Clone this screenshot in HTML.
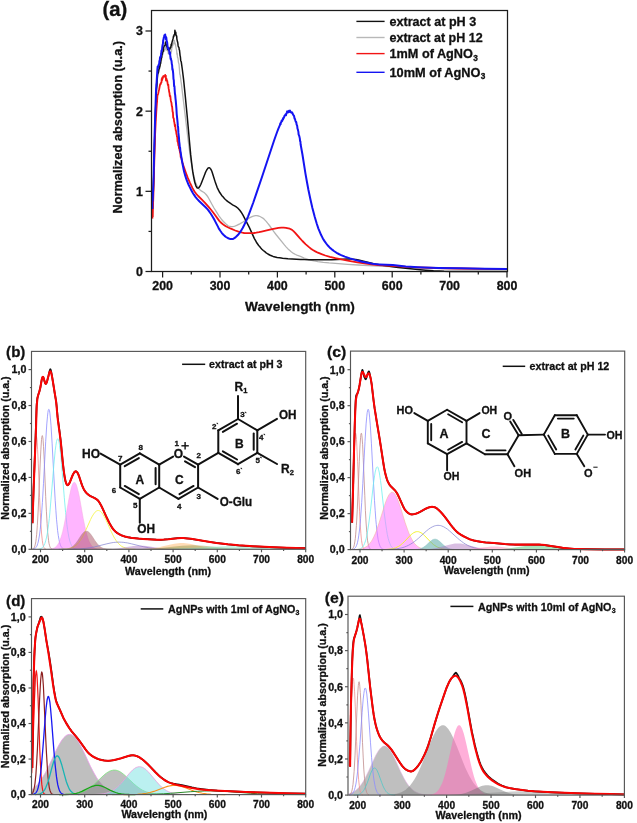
<!DOCTYPE html>
<html><head><meta charset="utf-8"><title>UV-Vis absorption spectra</title>
<style>
html,body{margin:0;padding:0;background:#fff;}
body{width:637px;height:823px;overflow:hidden;font-family:"Liberation Sans",sans-serif;}
svg{display:block;will-change:transform;}
text{font-family:"Liberation Sans",sans-serif;font-weight:bold;stroke:#111;stroke-width:0.3px;}
</style></head><body>
<svg width="637" height="823" viewBox="0 0 637 823">
<rect width="637" height="823" fill="#ffffff"/>
<g font-family="Liberation Sans, sans-serif" font-weight="bold">
<path d="M152.6,207.4 L152.8,202.1 L153.4,187.3 L153.7,176.9 L154.6,137.5 L155.7,104.0 L156.3,91.6 L156.9,82.4 L157.1,79.1 L157.4,77.1 L157.7,72.9 L158.0,71.5 L158.3,69.5 L158.6,70.1 L158.9,69.7 L159.2,69.0 L159.4,69.1 L159.7,65.7 L160.0,66.7 L160.3,65.6 L160.6,63.4 L160.9,60.5 L161.5,60.3 L161.7,58.7 L162.0,56.2 L162.6,55.1 L162.9,53.5 L163.5,49.3 L163.7,51.5 L164.0,50.2 L164.3,49.7 L164.6,50.8 L164.9,49.0 L165.2,48.7 L165.5,46.5 L166.0,49.1 L166.3,47.1 L166.6,48.5 L166.9,50.3 L167.2,49.8 L167.5,50.4 L167.8,51.3 L168.1,51.0 L168.3,53.7 L168.6,52.3 L168.9,51.4 L169.2,51.9 L169.5,51.8 L169.8,51.9 L170.1,51.4 L170.3,53.7 L170.6,51.4 L170.9,53.4 L171.2,51.4 L171.5,51.8 L171.8,48.0 L172.1,46.6 L172.4,47.0 L172.6,44.0 L172.9,45.3 L173.2,43.5 L173.5,42.6 L173.8,43.2 L174.4,40.3 L174.7,43.7 L174.9,42.6 L175.2,44.7 L175.5,44.1 L175.8,46.6 L176.4,49.3 L176.7,51.1 L176.9,54.2 L177.2,53.1 L177.5,57.4 L177.8,57.6 L178.1,59.0 L178.4,62.2 L179.0,64.1 L179.5,70.2 L179.8,74.3 L180.1,74.7 L180.7,78.8 L181.0,81.6 L181.3,83.1 L187.6,135.7 L189.0,146.9 L190.4,157.2 L191.6,164.6 L192.7,170.9 L193.9,176.2 L195.0,180.6 L195.6,182.4 L196.5,184.6 L197.3,186.4 L198.2,187.8 L199.0,188.9 L200.2,190.0 L201.3,190.9 L203.6,192.3 L204.5,192.9 L205.6,194.0 L206.5,195.0 L207.7,196.6 L208.8,198.5 L212.3,205.0 L214.0,208.0 L216.6,212.2 L219.1,216.1 L221.4,219.2 L223.4,221.5 L225.7,223.8 L226.9,224.8 L227.7,225.5 L228.6,226.0 L229.5,226.4 L230.0,226.5 L230.9,226.7 L231.8,226.7 L232.6,226.6 L233.8,226.4 L234.9,226.1 L236.1,225.7 L237.2,225.2 L239.8,223.9 L243.0,222.0 L249.0,218.1 L250.4,217.4 L252.1,216.6 L253.3,216.2 L254.4,215.9 L255.3,215.7 L256.2,215.6 L257.0,215.6 L257.9,215.8 L258.7,216.0 L259.6,216.3 L261.3,217.2 L262.8,218.1 L264.5,219.6 L266.2,221.4 L267.6,223.2 L269.1,225.0 L274.0,231.8 L276.0,234.5 L284.6,245.1 L286.3,247.1 L288.0,248.9 L289.5,250.3 L291.2,251.7 L293.5,253.4 L295.5,254.5 L296.9,255.1 L300.4,256.3 L304.1,258.0 L305.8,258.6 L308.7,259.6 L311.3,260.3 L314.1,260.9 L317.9,261.6 L323.3,262.3 L329.1,262.9 L347.7,264.3 L358.0,265.0 L373.3,265.9 L412.3,267.6 L433.2,268.3 L447.9,268.7 L481.2,269.1 L507.0,269.3" fill="none" stroke="#b4b4b4" stroke-width="1.3" stroke-linejoin="round" stroke-linecap="butt"/>
<path d="M152.6,209.0 L152.8,203.7 L153.4,188.9 L154.6,141.3 L155.4,113.5 L156.3,91.8 L156.6,88.1 L156.9,85.7 L157.1,80.7 L157.7,74.1 L158.3,72.7 L158.6,71.7 L158.9,69.3 L159.2,68.6 L159.4,68.3 L159.7,66.8 L160.0,65.8 L160.3,63.3 L160.6,63.3 L160.9,60.7 L161.2,58.8 L161.5,57.6 L161.7,57.4 L162.0,53.9 L162.3,54.4 L162.6,52.0 L162.9,51.8 L163.2,51.5 L163.5,48.5 L163.7,47.3 L164.0,46.7 L164.3,45.5 L164.6,45.6 L164.9,45.1 L165.2,44.2 L165.5,42.1 L165.8,43.3 L166.0,44.9 L166.3,44.4 L166.6,46.0 L166.9,46.6 L167.2,46.0 L167.8,49.6 L168.1,49.4 L168.3,48.8 L168.6,49.2 L168.9,48.3 L169.2,50.3 L169.5,48.8 L170.1,48.9 L170.3,47.3 L170.6,46.8 L170.9,47.1 L171.2,44.2 L171.5,45.4 L171.8,43.1 L172.1,42.1 L172.4,40.7 L172.6,40.8 L172.9,39.1 L173.2,38.2 L173.5,36.0 L173.8,36.7 L174.1,34.9 L174.4,34.3 L174.7,34.5 L174.9,30.2 L175.2,32.8 L175.5,34.4 L175.8,32.3 L176.1,35.7 L176.4,35.5 L176.7,36.3 L176.9,39.1 L177.5,41.8 L177.8,42.8 L178.1,45.7 L178.4,46.8 L179.0,47.6 L179.2,49.6 L179.5,50.1 L180.1,55.6 L180.4,56.9 L180.7,60.4 L181.3,62.1 L182.4,70.0 L183.6,79.6 L185.3,96.4 L187.3,117.3 L189.9,146.2 L190.7,154.9 L191.6,162.7 L192.7,171.4 L193.6,176.6 L194.7,182.0 L195.3,184.1 L195.9,185.8 L196.5,187.0 L196.8,187.4 L197.3,188.0 L197.6,188.1 L197.9,188.1 L198.2,188.1 L198.5,188.0 L199.0,187.5 L199.9,186.2 L200.8,184.5 L201.9,181.7 L205.1,173.4 L205.9,171.5 L206.8,169.8 L207.7,168.6 L208.2,168.0 L208.5,167.9 L209.1,167.7 L209.4,167.8 L210.0,168.1 L210.2,168.4 L210.8,169.2 L211.4,170.3 L212.0,171.7 L212.8,174.2 L215.4,182.6 L216.3,185.1 L217.1,187.3 L218.6,190.4 L219.4,192.0 L220.3,193.3 L221.7,195.4 L223.2,197.1 L224.6,198.7 L226.3,200.3 L228.3,201.9 L230.9,203.7 L232.6,204.8 L235.5,206.4 L236.6,207.2 L237.5,207.8 L238.4,208.7 L239.8,210.3 L240.7,211.5 L241.8,213.2 L243.0,215.2 L244.4,217.8 L249.3,227.4 L254.4,238.6 L255.3,240.2 L256.4,242.2 L257.3,243.5 L258.5,245.2 L259.6,246.6 L260.8,248.0 L261.9,249.2 L263.3,250.5 L264.8,251.7 L266.2,252.8 L267.9,254.0 L269.7,255.0 L271.4,255.7 L273.1,256.4 L275.1,256.9 L277.1,257.4 L279.7,257.8 L282.6,258.2 L288.0,258.7 L300.6,259.4 L304.4,259.6 L308.4,259.7 L318.4,259.8 L326.2,259.8 L331.9,259.7 L347.7,259.1 L350.6,259.1 L352.9,259.2 L355.8,259.6 L358.6,260.1 L373.8,263.8 L377.6,264.5 L382.4,265.3 L392.8,266.8 L398.2,267.5 L420.3,269.7 L425.8,270.2 L433.5,270.8 L439.3,271.1 L444.1,271.3 L452.2,271.4 L461.1,271.5 L507.0,271.5" fill="none" stroke="#111" stroke-width="1.5" stroke-linejoin="round" stroke-linecap="butt"/>
<path d="M152.6,217.0 L152.8,210.8 L153.4,195.3 L154.3,161.3 L155.1,134.6 L155.7,122.2 L156.3,111.6 L156.9,103.3 L157.1,101.3 L157.4,96.0 L157.7,94.7 L158.0,94.2 L158.3,93.2 L158.9,90.1 L159.2,89.2 L160.0,84.8 L160.3,84.0 L160.6,84.3 L160.9,82.9 L161.2,82.8 L161.5,82.1 L161.7,78.9 L162.0,80.4 L162.3,77.3 L162.6,78.8 L163.2,76.2 L163.5,76.7 L163.7,76.0 L164.0,76.3 L164.3,76.4 L164.6,76.1 L164.9,76.7 L165.2,74.8 L165.5,76.9 L165.8,75.6 L166.0,80.5 L166.3,78.6 L166.6,79.0 L166.9,80.9 L167.2,80.7 L167.8,84.6 L168.1,85.3 L168.3,84.5 L168.6,88.4 L168.9,89.8 L169.2,92.1 L169.5,93.1 L169.8,96.1 L170.1,96.6 L170.3,95.8 L170.6,98.8 L170.9,100.9 L171.5,103.1 L171.8,106.1 L172.1,106.4 L172.6,111.8 L172.9,112.1 L173.2,117.8 L173.5,117.8 L173.8,118.7 L174.1,121.6 L174.4,122.6 L174.9,126.4 L175.2,124.8 L175.5,128.4 L175.8,130.7 L176.1,131.0 L176.4,134.0 L176.7,134.5 L176.9,136.6 L177.2,136.9 L177.5,141.4 L177.8,140.8 L178.4,145.6 L178.7,144.9 L179.0,148.3 L179.2,147.3 L179.5,149.8 L179.8,151.0 L180.1,152.9 L180.4,153.4 L180.7,157.3 L181.0,156.7 L182.4,162.2 L183.8,166.9 L185.6,172.0 L187.6,177.3 L189.9,182.6 L192.4,187.9 L193.3,189.5 L194.5,191.4 L196.2,193.8 L198.2,196.0 L201.9,199.7 L204.8,202.6 L208.8,207.1 L210.8,209.5 L212.8,212.0 L214.5,214.3 L218.0,219.1 L219.1,220.6 L220.0,221.6 L221.4,223.0 L222.9,224.2 L224.6,225.4 L226.3,226.5 L228.3,227.5 L230.9,228.7 L235.2,230.5 L237.8,231.4 L240.4,232.2 L242.4,232.7 L244.1,233.0 L246.1,233.1 L249.3,233.2 L251.9,233.1 L253.9,233.0 L256.2,232.7 L259.0,232.2 L261.6,231.6 L269.9,229.6 L273.4,228.8 L276.0,228.3 L278.5,227.9 L281.4,227.7 L283.7,227.6 L286.0,227.8 L288.3,228.3 L289.7,228.7 L291.2,229.4 L292.3,230.1 L293.5,231.1 L295.2,232.8 L299.8,238.2 L302.4,241.0 L305.8,244.3 L309.3,247.4 L311.3,249.0 L313.3,250.3 L315.3,251.4 L317.9,252.7 L321.6,254.2 L325.3,255.5 L329.9,256.8 L335.4,258.2 L341.4,259.4 L348.9,260.8 L357.5,262.3 L367.8,263.9 L373.0,264.6 L378.1,265.1 L392.2,265.9 L406.8,266.9 L418.0,267.4 L436.1,268.0 L459.4,268.5 L485.5,268.9 L507.0,269.1" fill="none" stroke="#f21414" stroke-width="1.8" stroke-linejoin="round" stroke-linecap="butt"/>
<path d="M152.6,201.8 L152.8,197.1 L153.4,183.3 L153.7,173.1 L154.3,146.7 L154.9,125.3 L156.0,91.4 L156.3,85.2 L156.6,82.5 L157.4,69.3 L157.7,66.4 L158.0,67.8 L158.3,65.9 L158.6,65.2 L158.9,64.3 L159.2,63.8 L159.4,60.9 L159.7,61.3 L160.0,57.6 L160.3,56.9 L160.6,57.4 L161.2,54.0 L161.5,50.5 L161.7,51.0 L162.0,50.0 L162.3,46.9 L162.6,44.8 L162.9,44.0 L163.2,40.1 L163.5,39.7 L163.7,37.9 L164.0,37.7 L164.3,35.7 L164.6,35.0 L164.9,36.7 L165.2,34.5 L165.5,37.3 L165.8,36.7 L166.0,39.4 L166.3,37.5 L166.6,40.5 L166.9,41.4 L167.2,42.7 L167.5,46.1 L167.8,48.3 L168.1,47.6 L168.3,47.6 L168.6,49.4 L168.9,49.8 L169.2,50.7 L169.5,54.0 L170.1,52.7 L170.3,56.2 L170.6,58.8 L170.9,58.4 L171.2,60.1 L171.5,60.9 L171.8,64.0 L172.1,65.1 L172.4,69.6 L172.6,69.0 L172.9,70.8 L173.2,73.7 L173.5,79.1 L173.8,80.2 L174.1,86.2 L174.4,86.0 L174.9,93.3 L175.2,95.1 L175.5,98.6 L175.8,101.1 L176.4,108.4 L176.7,113.8 L177.5,121.7 L177.8,125.4 L178.1,127.3 L178.4,132.9 L179.0,138.2 L179.2,141.6 L179.5,143.6 L179.8,147.2 L180.1,147.6 L180.4,151.4 L180.7,152.1 L181.0,155.0 L182.4,163.3 L183.8,170.3 L184.4,172.8 L185.3,175.9 L186.7,180.2 L187.6,182.4 L188.7,185.0 L189.9,187.4 L191.3,190.3 L192.7,192.8 L193.9,194.7 L195.6,197.1 L197.3,199.1 L199.3,201.2 L205.6,207.2 L207.4,209.1 L208.8,210.9 L210.8,213.8 L213.1,217.5 L214.8,220.6 L218.3,227.4 L219.4,229.4 L220.3,230.8 L221.7,232.8 L223.2,234.5 L224.6,235.9 L226.0,237.0 L227.2,237.7 L228.3,238.3 L229.5,238.7 L230.6,239.0 L231.8,239.1 L232.6,239.0 L233.5,238.7 L234.3,238.2 L235.5,237.4 L236.6,236.3 L238.1,234.8 L239.2,233.4 L240.4,231.8 L241.5,230.0 L242.7,228.0 L244.1,225.2 L246.1,221.0 L248.1,216.3 L250.4,210.4 L253.3,202.5 L256.4,193.4 L261.9,177.2 L274.0,140.8 L275.4,136.7 L277.1,132.0 L278.5,128.3 L280.0,124.9 L280.3,123.4 L280.6,124.4 L280.8,122.7 L281.1,122.6 L281.7,120.4 L282.0,121.2 L282.3,120.7 L282.6,119.9 L282.9,118.7 L283.1,119.4 L283.4,117.7 L283.7,118.0 L284.0,117.4 L284.6,115.6 L284.9,115.7 L285.4,114.6 L285.7,114.3 L286.0,115.3 L286.3,113.7 L286.6,113.1 L287.2,111.4 L287.4,112.0 L287.7,112.1 L288.0,112.5 L288.3,111.7 L288.6,111.2 L288.9,110.8 L289.2,112.0 L289.5,111.4 L289.7,111.0 L290.0,110.5 L290.3,111.5 L290.6,112.1 L290.9,112.4 L291.2,112.4 L291.5,112.8 L291.8,112.2 L292.0,112.4 L292.3,113.0 L292.6,113.1 L292.9,114.5 L293.2,114.5 L293.5,115.4 L293.8,115.7 L294.0,115.7 L294.6,118.8 L294.9,118.7 L295.5,121.1 L295.8,121.7 L296.1,121.7 L296.3,122.3 L296.6,124.6 L296.9,125.0 L297.2,126.1 L297.5,128.6 L297.8,129.3 L298.4,131.9 L298.6,134.3 L299.2,135.8 L299.8,138.4 L300.1,141.2 L300.4,141.5 L300.6,144.2 L302.4,154.3 L305.5,173.9 L307.0,182.2 L308.4,189.8 L310.4,199.3 L312.4,207.9 L314.7,216.7 L316.7,223.5 L318.4,228.6 L320.2,232.9 L321.0,234.8 L322.2,237.1 L323.0,238.7 L324.2,240.6 L326.2,243.5 L327.3,244.9 L328.5,246.2 L329.6,247.4 L331.1,248.7 L332.5,249.9 L333.9,251.0 L335.4,252.0 L337.1,253.1 L338.8,254.0 L340.5,254.8 L344.8,256.6 L350.0,258.4 L355.8,260.1 L362.1,261.7 L369.8,263.3 L372.4,263.8 L374.7,264.1 L379.3,264.4 L392.8,265.1 L405.7,266.4 L410.3,266.7 L417.7,267.2 L424.3,267.5 L438.4,267.9 L461.1,268.3 L484.3,268.7 L507.0,268.9" fill="none" stroke="#1414f2" stroke-width="2.0" stroke-linejoin="round" stroke-linecap="butt"/>
<line x1="152.56" y1="201.75" x2="152.56" y2="208.97" stroke="#1414f2" stroke-width="1.5" stroke-linecap="butt"/>
<line x1="152.56" y1="208.97" x2="152.56" y2="218.59" stroke="#f21414" stroke-width="1.5" stroke-linecap="butt"/>
<rect x="151.50" y="10.50" width="356.00" height="261.00" fill="none" stroke="#1c1c1c" stroke-width="1.25"/>
<line x1="162.60" y1="271.50" x2="162.60" y2="277.50" stroke="#1c1c1c" stroke-width="1.25" stroke-linecap="butt"/>
<text x="162.60" y="290.30" font-size="12.4" text-anchor="middle" fill="#111" >200</text>
<line x1="220.00" y1="271.50" x2="220.00" y2="277.50" stroke="#1c1c1c" stroke-width="1.25" stroke-linecap="butt"/>
<text x="220.00" y="290.30" font-size="12.4" text-anchor="middle" fill="#111" >300</text>
<line x1="277.40" y1="271.50" x2="277.40" y2="277.50" stroke="#1c1c1c" stroke-width="1.25" stroke-linecap="butt"/>
<text x="277.40" y="290.30" font-size="12.4" text-anchor="middle" fill="#111" >400</text>
<line x1="334.80" y1="271.50" x2="334.80" y2="277.50" stroke="#1c1c1c" stroke-width="1.25" stroke-linecap="butt"/>
<text x="334.80" y="290.30" font-size="12.4" text-anchor="middle" fill="#111" >500</text>
<line x1="392.20" y1="271.50" x2="392.20" y2="277.50" stroke="#1c1c1c" stroke-width="1.25" stroke-linecap="butt"/>
<text x="392.20" y="290.30" font-size="12.4" text-anchor="middle" fill="#111" >600</text>
<line x1="449.60" y1="271.50" x2="449.60" y2="277.50" stroke="#1c1c1c" stroke-width="1.25" stroke-linecap="butt"/>
<text x="449.60" y="290.30" font-size="12.4" text-anchor="middle" fill="#111" >700</text>
<line x1="507.00" y1="271.50" x2="507.00" y2="277.50" stroke="#1c1c1c" stroke-width="1.25" stroke-linecap="butt"/>
<text x="507.00" y="290.30" font-size="12.4" text-anchor="middle" fill="#111" >800</text>
<line x1="191.30" y1="271.50" x2="191.30" y2="274.50" stroke="#1c1c1c" stroke-width="1.25" stroke-linecap="butt"/>
<line x1="248.70" y1="271.50" x2="248.70" y2="274.50" stroke="#1c1c1c" stroke-width="1.25" stroke-linecap="butt"/>
<line x1="306.10" y1="271.50" x2="306.10" y2="274.50" stroke="#1c1c1c" stroke-width="1.25" stroke-linecap="butt"/>
<line x1="363.50" y1="271.50" x2="363.50" y2="274.50" stroke="#1c1c1c" stroke-width="1.25" stroke-linecap="butt"/>
<line x1="420.90" y1="271.50" x2="420.90" y2="274.50" stroke="#1c1c1c" stroke-width="1.25" stroke-linecap="butt"/>
<line x1="478.30" y1="271.50" x2="478.30" y2="274.50" stroke="#1c1c1c" stroke-width="1.25" stroke-linecap="butt"/>
<line x1="145.50" y1="271.50" x2="151.50" y2="271.50" stroke="#1c1c1c" stroke-width="1.25" stroke-linecap="butt"/>
<text x="143.00" y="275.90" font-size="12.4" text-anchor="end" fill="#111" >0</text>
<line x1="145.50" y1="191.33" x2="151.50" y2="191.33" stroke="#1c1c1c" stroke-width="1.25" stroke-linecap="butt"/>
<text x="143.00" y="195.73" font-size="12.4" text-anchor="end" fill="#111" >1</text>
<line x1="145.50" y1="111.16" x2="151.50" y2="111.16" stroke="#1c1c1c" stroke-width="1.25" stroke-linecap="butt"/>
<text x="143.00" y="115.56" font-size="12.4" text-anchor="end" fill="#111" >2</text>
<line x1="145.50" y1="30.99" x2="151.50" y2="30.99" stroke="#1c1c1c" stroke-width="1.25" stroke-linecap="butt"/>
<text x="143.00" y="35.39" font-size="12.4" text-anchor="end" fill="#111" >3</text>
<line x1="148.50" y1="231.41" x2="151.50" y2="231.41" stroke="#1c1c1c" stroke-width="1.25" stroke-linecap="butt"/>
<line x1="148.50" y1="151.25" x2="151.50" y2="151.25" stroke="#1c1c1c" stroke-width="1.25" stroke-linecap="butt"/>
<line x1="148.50" y1="71.07" x2="151.50" y2="71.07" stroke="#1c1c1c" stroke-width="1.25" stroke-linecap="butt"/>
<text x="300.00" y="310.70" font-size="13.6" text-anchor="middle" fill="#111" textLength="109.80" lengthAdjust="spacingAndGlyphs" >Wavelength (nm)</text>
<text x="122.00" y="127.20" font-size="12.8" text-anchor="middle" fill="#111" transform="rotate(-90 122.00 127.20)" textLength="172.60" lengthAdjust="spacingAndGlyphs" >Normalized absorption (u.a.)</text>
<text x="102.50" y="15.80" font-size="20" text-anchor="start" fill="#111" textLength="24.80" lengthAdjust="spacingAndGlyphs" >(a)</text>
<line x1="356.40" y1="21.40" x2="384.60" y2="21.40" stroke="#111" stroke-width="1.4" stroke-linecap="butt"/>
<text x="389.50" y="26.20" font-size="12.5" text-anchor="start" fill="#111" textLength="86.70" lengthAdjust="spacingAndGlyphs" >extract at pH 3</text>
<line x1="356.40" y1="37.50" x2="384.60" y2="37.50" stroke="#b8b8b8" stroke-width="1.4" stroke-linecap="butt"/>
<text x="389.50" y="42.00" font-size="12.5" text-anchor="start" fill="#111" textLength="93.20" lengthAdjust="spacingAndGlyphs" >extract at pH 12</text>
<line x1="356.40" y1="53.60" x2="384.60" y2="53.60" stroke="#f21414" stroke-width="1.4" stroke-linecap="butt"/>
<text x="389.50" y="58.10" font-size="12.5" text-anchor="start" fill="#111" textLength="83.40" lengthAdjust="spacingAndGlyphs" >1mM of AgNO</text>
<text x="473.20" y="60.70" font-size="8.3" text-anchor="start" fill="#111" >3</text>
<line x1="356.40" y1="72.30" x2="384.60" y2="72.30" stroke="#1414f2" stroke-width="1.4" stroke-linecap="butt"/>
<text x="389.50" y="76.50" font-size="12.5" text-anchor="start" fill="#111" textLength="91.00" lengthAdjust="spacingAndGlyphs" >10mM of AgNO</text>
<text x="480.80" y="79.10" font-size="8.3" text-anchor="start" fill="#111" >3</text>
</g>
<g font-family="Liberation Sans, sans-serif" font-weight="bold">
<path d="M31.7,524.8 L32.5,507.8 L34.3,463.8 L35.0,449.4 L35.4,442.2 L35.6,439.6 L35.9,437.7 L36.1,436.5 L36.3,436.1 L36.5,436.5 L36.7,437.7 L37.0,439.6 L37.2,442.2 L37.6,449.4 L38.3,463.8 L39.6,497.5 L40.3,512.5 L40.9,524.8 L41.6,534.0 L42.3,540.3 L42.7,543.2 L43.2,545.3 L43.6,546.7 L43.8,547.3 L44.3,548.0 L44.9,548.7 L45.4,549.0 L45.8,549.1" fill="none" stroke="#f09090" stroke-width="0.8"/>
<path d="M32.2,549.1 L33.1,548.8 L33.8,548.2 L34.5,547.1 L34.9,545.9 L35.3,544.2 L35.8,541.8 L36.2,538.5 L36.7,534.3 L37.3,525.7 L38.2,510.0 L40.2,463.0 L40.9,449.2 L41.5,439.5 L41.7,437.5 L42.0,436.2 L42.2,435.6 L42.4,435.7 L42.6,436.5 L42.9,438.0 L43.1,440.2 L43.5,446.4 L44.2,459.4 L45.7,496.7 L46.4,511.2 L47.1,523.3 L47.7,532.5 L48.2,537.1 L48.6,540.7 L49.0,543.4 L49.5,545.3 L49.9,546.7 L50.1,547.2 L50.6,548.0 L51.2,548.7 L51.7,548.9 L52.1,549.1" fill="none" stroke="#c08c8c" stroke-width="0.8"/>
<path d="M33.1,549.1 L33.8,548.9 L34.4,548.7 L35.1,548.3 L35.5,547.9 L36.0,547.5 L36.4,546.8 L36.9,546.0 L37.3,545.0 L37.7,543.7 L38.2,542.1 L38.8,539.1 L39.5,535.0 L40.2,529.7 L40.8,523.2 L41.3,518.0 L42.4,502.4 L43.5,483.3 L45.7,441.4 L46.8,423.9 L47.5,416.2 L47.9,412.5 L48.3,410.2 L48.6,409.6 L48.8,409.3 L49.0,409.4 L49.2,409.8 L49.5,410.6 L49.9,413.2 L50.3,417.1 L51.0,425.2 L52.1,443.1 L54.1,481.0 L55.2,500.4 L55.9,510.5 L56.5,519.2 L57.0,524.2 L57.6,530.6 L58.3,535.6 L59.0,539.6 L59.6,542.5 L60.3,544.7 L60.7,545.8 L61.2,546.6 L61.6,547.3 L62.1,547.8 L62.5,548.2 L63.2,548.6 L63.8,548.9 L64.5,549.1" fill="none" stroke="#8c8cff" stroke-width="0.8"/>
<path d="M38.6,549.1 L39.5,549.0 L40.4,548.8 L41.1,548.5 L41.7,548.1 L42.4,547.6 L42.8,547.2 L43.5,546.3 L43.9,545.5 L44.8,543.6 L45.7,540.8 L46.6,537.1 L47.3,533.6 L47.9,529.3 L48.6,524.3 L49.3,518.6 L49.9,512.1 L51.2,497.1 L53.9,464.3 L54.6,457.0 L55.2,450.6 L55.9,445.4 L56.5,441.5 L57.0,439.9 L57.2,439.3 L57.4,439.0 L57.6,438.8 L57.9,438.8 L58.1,439.0 L58.3,439.4 L58.5,440.0 L59.0,441.8 L59.6,445.7 L60.3,451.0 L61.0,457.5 L61.6,464.8 L64.3,497.6 L65.6,512.5 L66.3,519.0 L66.9,524.7 L67.6,529.6 L68.3,533.8 L68.9,537.3 L69.8,541.0 L70.7,543.7 L71.6,545.6 L72.0,546.3 L72.7,547.2 L73.1,547.7 L73.8,548.2 L74.4,548.5 L75.1,548.8 L76.7,549.1" fill="none" stroke="#70f0f0" stroke-width="0.8"/>
<path d="M48.5,549.2 L51.0,549.0 L52.7,548.6 L54.3,548.0 L55.6,547.1 L56.3,546.5 L56.9,545.8 L58.0,544.2 L59.1,542.2 L60.0,540.1 L60.9,537.7 L61.8,534.8 L62.7,531.4 L63.8,526.6 L65.6,517.6 L69.1,497.9 L70.0,493.5 L70.9,489.6 L71.7,486.5 L72.6,484.1 L73.1,483.3 L73.5,482.7 L74.0,482.4 L74.4,482.3 L74.8,482.4 L75.3,482.9 L75.7,483.6 L76.2,484.5 L77.0,487.0 L77.9,490.3 L78.6,493.2 L79.5,497.6 L83.2,518.4 L84.8,526.3 L85.9,531.1 L86.8,534.5 L87.7,537.5 L88.5,540.0 L89.4,542.1 L90.5,544.1 L91.6,545.7 L92.3,546.4 L93.0,547.0 L94.3,547.9 L95.8,548.6 L97.6,549.0 L100.0,549.2 L100.03,549.30 L48.54,549.30 Z" fill="rgba(255,120,255,0.55)" stroke="none"/>
<path d="M48.5,549.2 L51.0,549.0 L52.7,548.6 L54.3,548.0 L55.6,547.1 L56.3,546.5 L56.9,545.8 L58.0,544.2 L59.1,542.2 L60.0,540.1 L60.9,537.7 L61.8,534.8 L62.7,531.4 L63.8,526.6 L65.6,517.6 L69.1,497.9 L70.0,493.5 L70.9,489.6 L71.7,486.5 L72.6,484.1 L73.1,483.3 L73.5,482.7 L74.0,482.4 L74.4,482.3 L74.8,482.4 L75.3,482.9 L75.7,483.6 L76.2,484.5 L77.0,487.0 L77.9,490.3 L78.6,493.2 L79.5,497.6 L83.2,518.4 L84.8,526.3 L85.9,531.1 L86.8,534.5 L87.7,537.5 L88.5,540.0 L89.4,542.1 L90.5,544.1 L91.6,545.7 L92.3,546.4 L93.0,547.0 L94.3,547.9 L95.8,548.6 L97.6,549.0 L100.0,549.2" fill="none" stroke="#f4a8e0" stroke-width="0.5"/>
<path d="M60.8,549.2 L64.1,549.1 L66.8,548.9 L69.0,548.6 L71.0,548.0 L72.7,547.4 L74.5,546.4 L76.0,545.3 L77.6,543.9 L78.9,542.4 L80.2,540.6 L81.6,538.5 L82.9,536.2 L85.3,531.3 L90.6,519.5 L91.9,516.9 L93.1,514.9 L94.4,513.0 L95.0,512.2 L95.7,511.6 L96.4,511.1 L97.0,510.7 L97.7,510.5 L98.1,510.5 L98.6,510.5 L99.2,510.7 L99.9,511.0 L100.6,511.5 L101.2,512.1 L101.9,512.9 L103.2,514.8 L104.3,516.7 L105.7,519.3 L111.0,531.1 L113.4,536.0 L114.7,538.4 L116.0,540.4 L117.4,542.2 L118.7,543.8 L120.2,545.2 L121.8,546.4 L123.6,547.3 L125.3,548.0 L127.3,548.5 L129.5,548.9 L132.2,549.1 L135.5,549.2" fill="none" stroke="#f6f650" stroke-width="0.9"/>
<path d="M60.9,549.3 L65.1,549.1 L66.6,548.9 L67.9,548.7 L69.3,548.3 L70.4,547.9 L71.5,547.3 L72.4,546.7 L73.3,546.0 L74.1,545.2 L75.0,544.3 L75.9,543.2 L77.7,540.7 L81.2,535.3 L82.8,533.3 L83.6,532.4 L84.5,531.7 L85.4,531.3 L86.3,531.2 L87.2,531.3 L88.1,531.7 L88.9,532.3 L89.8,533.2 L90.7,534.3 L91.6,535.5 L95.1,540.9 L96.7,543.1 L97.8,544.4 L98.7,545.3 L99.6,546.1 L100.4,546.8 L101.3,547.4 L102.4,547.9 L103.5,548.4 L104.9,548.7 L106.2,548.9 L107.7,549.1 L111.7,549.3 L111.71,549.30 L60.88,549.30 Z" fill="rgba(170,80,100,0.5)" stroke="none"/>
<path d="M60.9,549.3 L65.1,549.1 L66.6,548.9 L67.9,548.7 L69.3,548.3 L70.4,547.9 L71.5,547.3 L72.4,546.7 L73.3,546.0 L74.1,545.2 L75.0,544.3 L75.9,543.2 L77.7,540.7 L81.2,535.3 L82.8,533.3 L83.6,532.4 L84.5,531.7 L85.4,531.3 L86.3,531.2 L87.2,531.3 L88.1,531.7 L88.9,532.3 L89.8,533.2 L90.7,534.3 L91.6,535.5 L95.1,540.9 L96.7,543.1 L97.8,544.4 L98.7,545.3 L99.6,546.1 L100.4,546.8 L101.3,547.4 L102.4,547.9 L103.5,548.4 L104.9,548.7 L106.2,548.9 L107.7,549.1 L111.7,549.3" fill="none" stroke="#b89090" stroke-width="0.5"/>
<path d="M58.7,549.3 L68.4,549.2 L75.3,549.1 L80.8,548.8 L85.9,548.3 L90.1,547.7 L94.5,546.9 L98.5,545.9 L106.9,543.8 L111.1,542.9 L113.3,542.5 L115.3,542.3 L117.3,542.2 L119.3,542.1 L121.3,542.2 L123.2,542.3 L125.2,542.6 L127.4,542.9 L131.4,543.8 L139.8,545.9 L143.8,546.8 L148.2,547.7 L152.4,548.3 L157.5,548.8 L163.0,549.1 L169.9,549.2 L179.6,549.3" fill="none" stroke="#8080d0" stroke-width="0.7"/>
<path d="M92.2,549.3 L105.3,549.2 L109.7,549.0 L113.7,548.8 L117.0,548.5 L120.5,548.1 L130.2,546.6 L133.5,546.1 L136.9,545.8 L139.9,545.7 L143.0,545.8 L146.4,546.1 L149.7,546.6 L159.4,548.1 L162.9,548.5 L166.2,548.8 L170.2,549.0 L174.6,549.2 L187.7,549.3 L187.69,549.30 L92.21,549.30 Z" fill="rgba(170,110,190,0.45)" stroke="none"/>
<path d="M126.2,549.3 L135.3,549.2 L141.5,549.1 L146.6,548.8 L151.2,548.4 L155.2,547.9 L159.2,547.2 L162.9,546.3 L170.7,544.5 L174.4,543.7 L176.4,543.4 L178.4,543.2 L180.2,543.1 L181.9,543.0 L183.7,543.1 L185.5,543.2 L187.5,543.4 L189.5,543.7 L193.2,544.5 L200.9,546.3 L204.7,547.2 L208.7,547.9 L212.7,548.4 L217.3,548.8 L222.4,549.1 L228.6,549.2 L237.6,549.3 L237.63,549.30 L126.25,549.30 Z" fill="rgba(255,185,110,0.5)" stroke="none"/>
<path d="M113.4,549.3 L135.3,549.2 L142.6,549.0 L149.2,548.7 L154.8,548.4 L160.5,548.0 L176.9,546.3 L182.2,545.8 L187.7,545.5 L193.0,545.3 L198.3,545.5 L203.8,545.8 L209.1,546.3 L225.5,548.0 L231.2,548.4 L236.7,548.7 L243.4,549.0 L250.7,549.2 L272.6,549.3 L272.55,549.30 L113.43,549.30 Z" fill="rgba(140,150,70,0.45)" stroke="none"/>
<path d="M115.6,549.3 L148.3,549.2 L159.4,549.1 L169.3,548.9 L177.7,548.6 L186.4,548.3 L218.6,546.6 L226.8,546.3 L234.3,546.2 L242.1,546.3 L250.4,546.6 L258.6,546.9 L285.6,548.3 L295.5,548.7 L305.7,549.0 L305.70,549.30 L115.64,549.30 Z" fill="rgba(140,225,195,0.55)" stroke="none"/>
<path d="M32.5,523.1 L33.6,489.0 L35.6,435.3 L36.5,408.8 L36.7,404.0 L37.0,401.0 L37.4,397.9 L38.3,394.8 L39.4,391.4 L39.8,389.8 L40.3,387.8 L41.6,380.4 L42.0,378.5 L42.5,377.2 L42.7,376.9 L42.9,376.8 L43.2,377.0 L43.6,378.0 L44.7,381.8 L45.1,383.1 L45.4,383.5 L45.6,383.8 L45.8,383.9 L46.0,383.7 L46.2,383.4 L46.7,382.5 L47.4,380.3 L48.5,375.9 L49.3,371.9 L49.8,370.3 L50.2,369.3 L50.4,369.2 L50.7,369.7 L51.1,371.2 L51.8,374.6 L54.6,392.5 L55.7,398.8 L56.2,401.6 L56.6,405.5 L57.7,417.4 L59.7,432.3 L60.6,439.8 L62.6,460.5 L63.5,468.6 L64.1,473.7 L64.8,477.8 L65.5,481.0 L66.1,483.3 L66.6,484.2 L66.8,484.6 L67.2,485.0 L67.7,485.1 L67.9,485.1 L68.3,484.8 L69.0,483.9 L69.7,482.6 L72.5,475.5 L73.2,474.1 L73.9,472.9 L74.3,472.3 L74.8,471.8 L75.4,471.4 L75.9,471.3 L76.1,471.4 L76.5,471.6 L76.7,471.8 L77.2,472.2 L77.6,472.9 L78.5,474.8 L79.4,477.2 L81.4,483.4 L82.3,485.8 L83.4,488.4 L84.0,489.6 L84.7,490.7 L85.6,492.0 L86.5,493.0 L87.4,493.9 L88.5,494.8 L89.3,495.4 L90.4,496.1 L94.6,498.1 L96.0,498.9 L97.3,499.9 L98.0,500.5 L98.6,501.3 L99.9,503.3 L101.5,506.2 L103.0,509.4 L105.9,515.9 L107.5,519.2 L109.2,522.7 L110.8,525.5 L112.3,528.0 L113.9,530.0 L115.4,531.5 L117.2,533.0 L119.0,534.1 L120.9,535.1 L123.2,536.0 L125.1,536.6 L127.8,537.2 L131.1,537.8 L134.6,538.2 L138.6,538.6 L143.0,538.9 L156.3,539.7 L160.5,539.8 L163.8,539.6 L168.5,539.2 L175.3,538.4 L177.5,538.2 L181.1,538.0 L183.7,538.1 L187.0,538.4 L191.0,538.8 L207.1,541.5 L216.2,542.9 L227.9,544.3 L238.5,545.3 L253.3,546.3 L269.2,547.1 L286.7,547.8 L305.7,548.2" fill="none" stroke="#111" stroke-width="1.7" stroke-linejoin="round" stroke-linecap="butt"/>
<path d="M32.5,523.1 L33.6,489.0 L34.8,459.4 L35.9,432.1 L36.5,411.4 L36.7,406.2 L37.0,402.8 L37.2,400.6 L37.4,398.8 L37.8,396.5 L38.3,394.8 L39.4,391.4 L39.8,389.8 L40.3,387.8 L41.6,380.4 L42.0,378.5 L42.5,377.2 L42.7,376.9 L42.9,376.8 L43.2,377.0 L43.6,378.0 L44.7,381.8 L45.1,383.1 L45.4,383.5 L45.6,383.8 L45.8,383.9 L46.0,383.7 L46.5,383.0 L47.1,381.1 L48.7,375.1 L49.3,372.8 L49.8,371.8 L50.0,371.4 L50.2,371.2 L50.4,371.3 L50.7,371.5 L51.1,372.6 L51.5,374.3 L52.0,376.4 L53.3,384.0 L56.0,400.9 L56.6,406.7 L57.5,417.0 L58.0,421.2 L59.5,432.1 L60.4,438.9 L61.1,444.8 L62.8,462.6 L63.7,470.4 L64.4,475.2 L65.0,479.0 L65.7,481.9 L66.4,483.8 L66.8,484.6 L67.0,484.8 L67.5,485.1 L67.9,485.1 L68.1,484.9 L68.6,484.5 L69.0,483.9 L69.7,482.6 L72.5,475.5 L73.2,474.1 L73.9,472.9 L74.3,472.3 L74.8,471.8 L75.4,471.4 L75.9,471.3 L76.1,471.4 L76.5,471.6 L76.7,471.8 L77.2,472.2 L77.6,472.9 L78.5,474.8 L79.4,477.2 L81.4,483.4 L82.3,485.8 L83.4,488.4 L84.0,489.6 L84.7,490.7 L85.6,492.0 L86.5,493.0 L87.4,493.9 L88.5,494.8 L89.3,495.4 L90.4,496.1 L94.6,498.1 L96.0,498.9 L97.3,499.9 L98.0,500.5 L98.6,501.3 L99.9,503.3 L101.5,506.2 L103.0,509.4 L105.9,515.9 L107.5,519.2 L109.2,522.7 L110.8,525.5 L112.3,528.0 L113.9,530.0 L115.4,531.5 L117.2,533.0 L119.0,534.1 L120.9,535.1 L123.2,536.0 L125.1,536.6 L127.8,537.2 L131.1,537.8 L134.6,538.2 L138.6,538.6 L143.0,538.9 L156.3,539.7 L160.5,539.8 L163.8,539.6 L168.5,539.2 L175.3,538.4 L177.5,538.2 L181.1,538.0 L183.7,538.1 L187.0,538.4 L191.0,538.8 L207.1,541.5 L216.2,542.9 L227.9,544.3 L238.5,545.3 L253.3,546.3 L269.2,547.1 L286.7,547.8 L305.7,548.2" fill="none" stroke="#fa0404" stroke-width="2.05" stroke-linejoin="round" stroke-linecap="butt"/>
<rect x="31.50" y="351.40" width="274.20" height="197.90" fill="none" stroke="#555" stroke-width="1.15"/>
<line x1="40.50" y1="549.30" x2="40.50" y2="552.30" stroke="#555" stroke-width="1.15" stroke-linecap="butt"/>
<text x="40.50" y="563.20" font-size="10.2" text-anchor="middle" fill="#111" >200</text>
<line x1="84.70" y1="549.30" x2="84.70" y2="552.30" stroke="#555" stroke-width="1.15" stroke-linecap="butt"/>
<text x="84.70" y="563.20" font-size="10.2" text-anchor="middle" fill="#111" >300</text>
<line x1="128.90" y1="549.30" x2="128.90" y2="552.30" stroke="#555" stroke-width="1.15" stroke-linecap="butt"/>
<text x="128.90" y="563.20" font-size="10.2" text-anchor="middle" fill="#111" >400</text>
<line x1="173.10" y1="549.30" x2="173.10" y2="552.30" stroke="#555" stroke-width="1.15" stroke-linecap="butt"/>
<text x="173.10" y="563.20" font-size="10.2" text-anchor="middle" fill="#111" >500</text>
<line x1="217.30" y1="549.30" x2="217.30" y2="552.30" stroke="#555" stroke-width="1.15" stroke-linecap="butt"/>
<text x="217.30" y="563.20" font-size="10.2" text-anchor="middle" fill="#111" >600</text>
<line x1="261.50" y1="549.30" x2="261.50" y2="552.30" stroke="#555" stroke-width="1.15" stroke-linecap="butt"/>
<text x="261.50" y="563.20" font-size="10.2" text-anchor="middle" fill="#111" >700</text>
<line x1="305.70" y1="549.30" x2="305.70" y2="552.30" stroke="#555" stroke-width="1.15" stroke-linecap="butt"/>
<text x="305.70" y="563.20" font-size="10.2" text-anchor="middle" fill="#111" >800</text>
<line x1="62.60" y1="549.30" x2="62.60" y2="550.90" stroke="#555" stroke-width="1.15" stroke-linecap="butt"/>
<line x1="106.80" y1="549.30" x2="106.80" y2="550.90" stroke="#555" stroke-width="1.15" stroke-linecap="butt"/>
<line x1="151.00" y1="549.30" x2="151.00" y2="550.90" stroke="#555" stroke-width="1.15" stroke-linecap="butt"/>
<line x1="195.20" y1="549.30" x2="195.20" y2="550.90" stroke="#555" stroke-width="1.15" stroke-linecap="butt"/>
<line x1="239.40" y1="549.30" x2="239.40" y2="550.90" stroke="#555" stroke-width="1.15" stroke-linecap="butt"/>
<line x1="283.60" y1="549.30" x2="283.60" y2="550.90" stroke="#555" stroke-width="1.15" stroke-linecap="butt"/>
<line x1="28.50" y1="549.30" x2="31.50" y2="549.30" stroke="#555" stroke-width="1.15" stroke-linecap="butt"/>
<text x="26.40" y="553.10" font-size="10.7" text-anchor="end" fill="#111" >0,0</text>
<line x1="28.50" y1="513.36" x2="31.50" y2="513.36" stroke="#555" stroke-width="1.15" stroke-linecap="butt"/>
<text x="26.40" y="517.16" font-size="10.7" text-anchor="end" fill="#111" >0,2</text>
<line x1="28.50" y1="477.42" x2="31.50" y2="477.42" stroke="#555" stroke-width="1.15" stroke-linecap="butt"/>
<text x="26.40" y="481.22" font-size="10.7" text-anchor="end" fill="#111" >0,4</text>
<line x1="28.50" y1="441.48" x2="31.50" y2="441.48" stroke="#555" stroke-width="1.15" stroke-linecap="butt"/>
<text x="26.40" y="445.28" font-size="10.7" text-anchor="end" fill="#111" >0,6</text>
<line x1="28.50" y1="405.54" x2="31.50" y2="405.54" stroke="#555" stroke-width="1.15" stroke-linecap="butt"/>
<text x="26.40" y="409.34" font-size="10.7" text-anchor="end" fill="#111" >0,8</text>
<line x1="28.50" y1="369.60" x2="31.50" y2="369.60" stroke="#555" stroke-width="1.15" stroke-linecap="butt"/>
<text x="26.40" y="373.40" font-size="10.7" text-anchor="end" fill="#111" >1,0</text>
<line x1="29.90" y1="531.33" x2="31.50" y2="531.33" stroke="#555" stroke-width="1.15" stroke-linecap="butt"/>
<line x1="29.90" y1="495.39" x2="31.50" y2="495.39" stroke="#555" stroke-width="1.15" stroke-linecap="butt"/>
<line x1="29.90" y1="459.45" x2="31.50" y2="459.45" stroke="#555" stroke-width="1.15" stroke-linecap="butt"/>
<line x1="29.90" y1="423.51" x2="31.50" y2="423.51" stroke="#555" stroke-width="1.15" stroke-linecap="butt"/>
<line x1="29.90" y1="387.57" x2="31.50" y2="387.57" stroke="#555" stroke-width="1.15" stroke-linecap="butt"/>
<text x="125.10" y="575.10" font-size="10.7" text-anchor="start" fill="#111" textLength="86.00" lengthAdjust="spacingAndGlyphs" >Wavelength (nm)</text>
<text x="9.50" y="448.10" font-size="10.6" text-anchor="middle" fill="#111" transform="rotate(-90 9.50 448.10)" textLength="143.40" lengthAdjust="spacingAndGlyphs" >Normalized absorption (u.a.)</text>
<text x="6.10" y="356.90" font-size="15.5" text-anchor="start" fill="#111" textLength="19.30" lengthAdjust="spacingAndGlyphs" >(b)</text>
<line x1="182.10" y1="364.30" x2="205.20" y2="364.30" stroke="#111" stroke-width="1.5" stroke-linecap="butt"/>
<text x="209.10" y="367.60" font-size="10.7" text-anchor="start" fill="#111" textLength="73.40" lengthAdjust="spacingAndGlyphs" >extract at pH 3</text>
<line x1="139.80" y1="453.40" x2="159.20" y2="464.70" stroke="#111" stroke-width="2.0" stroke-linecap="round"/>
<line x1="159.20" y1="464.70" x2="159.20" y2="487.50" stroke="#111" stroke-width="2.0" stroke-linecap="round"/>
<line x1="159.20" y1="487.50" x2="139.80" y2="498.80" stroke="#111" stroke-width="2.0" stroke-linecap="round"/>
<line x1="139.80" y1="498.80" x2="120.20" y2="487.50" stroke="#111" stroke-width="2.0" stroke-linecap="round"/>
<line x1="120.20" y1="487.50" x2="120.20" y2="464.70" stroke="#111" stroke-width="2.0" stroke-linecap="round"/>
<line x1="120.20" y1="464.70" x2="139.80" y2="453.40" stroke="#111" stroke-width="2.0" stroke-linecap="round"/>
<line x1="124.74" y1="466.24" x2="138.85" y2="458.10" stroke="#111" stroke-width="2.0" stroke-linecap="round"/>
<line x1="138.85" y1="494.10" x2="124.74" y2="485.96" stroke="#111" stroke-width="2.0" stroke-linecap="round"/>
<line x1="155.60" y1="467.89" x2="155.60" y2="484.31" stroke="#111" stroke-width="2.0" stroke-linecap="round"/>
<line x1="159.20" y1="464.70" x2="173.10" y2="456.56" stroke="#111" stroke-width="2.0" stroke-linecap="round"/>
<line x1="183.99" y1="456.56" x2="198.10" y2="464.70" stroke="#111" stroke-width="2.0" stroke-linecap="round"/>
<line x1="198.10" y1="464.70" x2="198.10" y2="487.50" stroke="#111" stroke-width="2.0" stroke-linecap="round"/>
<line x1="198.10" y1="487.50" x2="178.50" y2="498.80" stroke="#111" stroke-width="2.0" stroke-linecap="round"/>
<line x1="178.50" y1="498.80" x2="159.20" y2="487.50" stroke="#111" stroke-width="2.0" stroke-linecap="round"/>
<line x1="185.01" y1="461.31" x2="195.05" y2="467.10" stroke="#111" stroke-width="2.0" stroke-linecap="round"/>
<line x1="193.56" y1="485.96" x2="179.45" y2="494.10" stroke="#111" stroke-width="2.0" stroke-linecap="round"/>
<line x1="120.20" y1="464.70" x2="100.60" y2="453.60" stroke="#111" stroke-width="2.0" stroke-linecap="round"/>
<line x1="139.80" y1="498.80" x2="139.80" y2="522.80" stroke="#111" stroke-width="2.0" stroke-linecap="round"/>
<line x1="198.10" y1="487.50" x2="217.60" y2="498.90" stroke="#111" stroke-width="2.0" stroke-linecap="round"/>
<line x1="198.10" y1="464.70" x2="218.30" y2="452.90" stroke="#111" stroke-width="2.0" stroke-linecap="round"/>
<line x1="218.30" y1="452.90" x2="218.30" y2="430.30" stroke="#111" stroke-width="2.0" stroke-linecap="round"/>
<line x1="218.30" y1="430.30" x2="238.00" y2="419.00" stroke="#111" stroke-width="2.0" stroke-linecap="round"/>
<line x1="238.00" y1="419.00" x2="257.30" y2="430.30" stroke="#111" stroke-width="2.0" stroke-linecap="round"/>
<line x1="257.30" y1="430.30" x2="257.30" y2="452.90" stroke="#111" stroke-width="2.0" stroke-linecap="round"/>
<line x1="257.30" y1="452.90" x2="238.00" y2="464.20" stroke="#111" stroke-width="2.0" stroke-linecap="round"/>
<line x1="238.00" y1="464.20" x2="218.30" y2="452.90" stroke="#111" stroke-width="2.0" stroke-linecap="round"/>
<line x1="222.85" y1="431.84" x2="237.03" y2="423.70" stroke="#111" stroke-width="2.0" stroke-linecap="round"/>
<line x1="253.70" y1="433.46" x2="253.70" y2="449.74" stroke="#111" stroke-width="2.0" stroke-linecap="round"/>
<line x1="237.03" y1="459.50" x2="222.85" y2="451.36" stroke="#111" stroke-width="2.0" stroke-linecap="round"/>
<line x1="238.00" y1="419.00" x2="238.00" y2="396.00" stroke="#111" stroke-width="2.0" stroke-linecap="round"/>
<line x1="257.30" y1="430.30" x2="277.00" y2="418.90" stroke="#111" stroke-width="2.0" stroke-linecap="round"/>
<line x1="257.30" y1="452.90" x2="277.00" y2="464.00" stroke="#111" stroke-width="2.0" stroke-linecap="round"/>
<text x="82.00" y="457.90" font-size="12" text-anchor="start" fill="#111" textLength="18.00" lengthAdjust="spacingAndGlyphs" >HO</text>
<text x="137.30" y="533.30" font-size="12" text-anchor="start" fill="#111" textLength="17.80" lengthAdjust="spacingAndGlyphs" >OH</text>
<text x="219.80" y="505.60" font-size="12" text-anchor="start" fill="#111" textLength="32.40" lengthAdjust="spacingAndGlyphs" >O-Glu</text>
<text x="278.90" y="419.20" font-size="12" text-anchor="start" fill="#111" textLength="17.60" lengthAdjust="spacingAndGlyphs" >OH</text>
<text x="234.60" y="390.70" font-size="12" text-anchor="start" fill="#111" >R<tspan font-size="7.5" dy="2.2">1</tspan></text>
<text x="281.00" y="472.70" font-size="12" text-anchor="start" fill="#111" >R<tspan font-size="7.5" dy="2.2">2</tspan></text>
<text x="178.50" y="457.60" font-size="12" text-anchor="middle" fill="#111" >O</text>
<text x="176.80" y="446.20" font-size="8" text-anchor="middle" fill="#111" >1</text>
<line x1="181.40" y1="445.80" x2="188.80" y2="445.80" stroke="#111" stroke-width="1.4" stroke-linecap="butt"/>
<line x1="185.10" y1="442.10" x2="185.10" y2="449.50" stroke="#111" stroke-width="1.4" stroke-linecap="butt"/>
<text x="139.80" y="484.30" font-size="12" text-anchor="middle" fill="#111" >A</text>
<text x="179.30" y="483.80" font-size="12" text-anchor="middle" fill="#111" >C</text>
<text x="239.40" y="448.20" font-size="12" text-anchor="middle" fill="#111" >B</text>
<text x="140.80" y="450.10" font-size="8" text-anchor="middle" fill="#111" >8</text>
<text x="120.20" y="461.30" font-size="8" text-anchor="middle" fill="#111" >7</text>
<text x="113.90" y="492.60" font-size="8" text-anchor="middle" fill="#111" >6</text>
<text x="135.30" y="507.70" font-size="8" text-anchor="middle" fill="#111" >5</text>
<text x="179.30" y="508.50" font-size="8" text-anchor="middle" fill="#111" >4</text>
<text x="198.80" y="498.50" font-size="8" text-anchor="middle" fill="#111" >3</text>
<text x="198.80" y="458.30" font-size="8" text-anchor="middle" fill="#111" >2</text>
<text x="215.20" y="428.80" font-size="8" text-anchor="middle" fill="#111" >2<tspan font-size="5.5" dy="-1.8">`</tspan></text>
<text x="243.40" y="417.40" font-size="8" text-anchor="middle" fill="#111" >3<tspan font-size="5.5" dy="-1.8">`</tspan></text>
<text x="262.20" y="439.70" font-size="8" text-anchor="middle" fill="#111" >4<tspan font-size="5.5" dy="-1.8">`</tspan></text>
<text x="258.60" y="462.90" font-size="8" text-anchor="middle" fill="#111" >5<tspan font-size="5.5" dy="-1.8">`</tspan></text>
<text x="239.20" y="473.60" font-size="8" text-anchor="middle" fill="#111" >6<tspan font-size="5.5" dy="-1.8">`</tspan></text>
</g>
<g font-family="Liberation Sans, sans-serif" font-weight="bold">
<path d="M351.2,520.6 L352.1,501.7 L353.6,461.7 L354.3,446.9 L354.7,439.5 L355.1,434.8 L355.4,433.6 L355.6,433.2 L355.8,433.6 L356.0,434.8 L356.3,436.8 L356.5,439.5 L356.9,446.9 L357.6,461.7 L358.9,496.3 L359.6,511.8 L360.2,524.4 L360.9,533.8 L361.5,540.3 L362.0,543.3 L362.4,545.5 L362.9,546.9 L363.1,547.5 L363.5,548.3 L364.2,549.0 L364.6,549.3 L365.1,549.4" fill="none" stroke="#f09090" stroke-width="0.8"/>
<path d="M351.3,549.4 L351.8,549.3 L352.2,549.1 L352.9,548.5 L353.5,547.3 L354.0,546.1 L354.4,544.3 L354.8,541.9 L355.3,538.6 L355.7,534.2 L356.4,525.5 L357.3,509.3 L359.3,461.3 L359.9,447.1 L360.6,437.3 L360.8,435.2 L361.0,433.9 L361.2,433.3 L361.5,433.4 L361.7,434.2 L361.9,435.7 L362.1,438.0 L362.6,444.3 L363.2,457.6 L364.8,495.7 L365.4,510.6 L366.1,523.0 L366.8,532.4 L367.2,537.1 L367.6,540.8 L368.1,543.5 L368.5,545.5 L369.0,546.9 L369.2,547.5 L369.6,548.3 L370.3,549.0 L370.7,549.2 L371.2,549.4" fill="none" stroke="#c08c8c" stroke-width="0.8"/>
<path d="M352.4,549.4 L353.1,549.2 L353.8,549.0 L354.4,548.6 L354.9,548.2 L355.3,547.8 L355.7,547.1 L356.2,546.3 L356.6,545.3 L357.1,544.0 L357.5,542.4 L358.2,539.3 L358.8,535.2 L359.5,530.0 L360.2,523.4 L360.6,518.2 L361.7,502.6 L362.8,483.4 L365.0,441.4 L366.1,423.9 L366.8,416.2 L367.2,412.5 L367.7,410.2 L367.9,409.6 L368.1,409.3 L368.3,409.4 L368.5,409.8 L368.8,410.6 L369.2,413.2 L369.6,417.1 L370.3,425.2 L371.4,443.2 L373.4,481.1 L374.5,500.6 L375.2,510.7 L375.8,519.4 L376.3,524.5 L376.9,530.8 L377.6,535.9 L378.2,539.8 L378.9,542.8 L379.6,545.0 L380.0,546.1 L380.4,546.9 L380.9,547.6 L381.3,548.1 L381.8,548.5 L382.4,548.9 L383.1,549.2 L383.8,549.4" fill="none" stroke="#8c8cff" stroke-width="0.8"/>
<path d="M357.4,549.5 L359.1,549.2 L360.4,548.8 L361.5,548.1 L362.2,547.6 L362.6,547.1 L363.3,546.1 L363.7,545.4 L364.6,543.4 L365.5,540.9 L366.2,538.4 L367.1,534.4 L367.7,530.7 L369.0,521.9 L370.4,511.2 L373.2,485.7 L373.9,480.5 L374.6,475.9 L375.2,472.0 L375.9,469.2 L376.3,467.9 L376.5,467.4 L376.8,467.1 L377.0,466.9 L377.2,466.8 L377.4,466.9 L377.6,467.1 L377.9,467.4 L378.1,467.9 L378.5,469.2 L379.2,472.0 L379.8,475.9 L380.5,480.5 L381.2,485.7 L384.0,511.2 L385.4,521.9 L386.7,530.7 L387.3,534.4 L388.2,538.4 L388.9,540.9 L389.8,543.4 L390.6,545.4 L391.1,546.1 L391.8,547.1 L392.2,547.6 L392.9,548.1 L394.0,548.8 L395.3,549.2 L397.0,549.5" fill="none" stroke="#70f0f0" stroke-width="0.8"/>
<path d="M354.1,549.5 L357.6,549.3 L360.3,549.0 L361.6,548.7 L362.7,548.4 L364.7,547.6 L366.4,546.6 L367.3,546.0 L368.2,545.2 L369.7,543.5 L371.3,541.4 L372.6,539.2 L373.9,536.6 L375.3,533.6 L376.8,529.7 L379.2,522.5 L384.5,505.5 L385.8,501.7 L386.9,498.9 L388.3,496.0 L388.9,494.9 L389.6,493.9 L390.3,493.2 L390.9,492.6 L391.6,492.3 L392.2,492.2 L392.7,492.3 L393.3,492.5 L394.0,493.0 L394.7,493.8 L395.3,494.7 L396.0,495.8 L397.3,498.5 L398.6,501.9 L400.0,505.7 L405.2,522.8 L407.7,529.9 L409.2,533.9 L410.5,536.8 L411.9,539.4 L413.2,541.6 L414.7,543.7 L416.3,545.3 L417.2,546.0 L418.0,546.7 L419.8,547.7 L421.8,548.4 L424.0,549.0 L426.6,549.3 L430.2,549.5 L430.16,549.60 L354.09,549.60 Z" fill="rgba(255,120,255,0.55)" stroke="none"/>
<path d="M354.1,549.5 L357.6,549.3 L360.3,549.0 L361.6,548.7 L362.7,548.4 L364.7,547.6 L366.4,546.6 L367.3,546.0 L368.2,545.2 L369.7,543.5 L371.3,541.4 L372.6,539.2 L373.9,536.6 L375.3,533.6 L376.8,529.7 L379.2,522.5 L384.5,505.5 L385.8,501.7 L386.9,498.9 L388.3,496.0 L388.9,494.9 L389.6,493.9 L390.3,493.2 L390.9,492.6 L391.6,492.3 L392.2,492.2 L392.7,492.3 L393.3,492.5 L394.0,493.0 L394.7,493.8 L395.3,494.7 L396.0,495.8 L397.3,498.5 L398.6,501.9 L400.0,505.7 L405.2,522.8 L407.7,529.9 L409.2,533.9 L410.5,536.8 L411.9,539.4 L413.2,541.6 L414.7,543.7 L416.3,545.3 L417.2,546.0 L418.0,546.7 L419.8,547.7 L421.8,548.4 L424.0,549.0 L426.6,549.3 L430.2,549.5" fill="none" stroke="#f4b090" stroke-width="0.5"/>
<path d="M380.8,549.6 L386.8,549.4 L389.0,549.2 L390.7,549.0 L392.5,548.7 L394.0,548.3 L395.6,547.8 L397.1,547.1 L398.5,546.4 L399.8,545.6 L401.1,544.6 L402.4,543.5 L404.8,541.2 L409.9,535.8 L411.2,534.6 L412.3,533.7 L413.7,532.7 L415.0,532.1 L416.3,531.7 L417.4,531.6 L418.5,531.7 L419.8,532.2 L420.9,532.7 L422.3,533.6 L423.4,534.5 L424.7,535.8 L429.8,541.1 L432.2,543.5 L433.5,544.6 L434.8,545.5 L436.2,546.4 L437.5,547.1 L439.0,547.8 L440.6,548.3 L442.1,548.7 L443.9,549.0 L445.6,549.2 L447.8,549.4 L453.8,549.6" fill="none" stroke="#f4f430" stroke-width="1.0"/>
<path d="M380.9,549.6 L386.2,549.5 L390.2,549.3 L393.5,549.1 L396.6,548.8 L399.2,548.4 L401.9,547.8 L404.3,547.1 L406.5,546.2 L408.5,545.3 L410.5,544.2 L412.4,543.0 L414.6,541.4 L416.4,540.0 L418.4,538.3 L426.5,530.9 L428.5,529.3 L430.3,528.0 L432.3,526.9 L434.3,526.0 L435.4,525.7 L436.2,525.5 L438.0,525.3 L439.8,525.5 L440.7,525.6 L441.8,526.0 L443.7,526.8 L445.7,528.0 L447.5,529.2 L449.5,530.9 L457.6,538.2 L459.6,539.9 L461.4,541.3 L463.6,542.9 L465.6,544.2 L467.6,545.3 L469.5,546.2 L471.7,547.0 L474.2,547.8 L476.8,548.4 L479.5,548.8 L482.6,549.1 L485.9,549.3 L489.8,549.5 L495.1,549.6" fill="none" stroke="#8080d0" stroke-width="0.7"/>
<path d="M411.2,549.6 L414.9,549.5 L417.6,549.3 L419.8,548.9 L421.7,548.2 L423.5,547.3 L425.3,546.0 L426.8,544.7 L430.1,541.6 L431.7,540.4 L432.5,539.8 L433.4,539.4 L434.3,539.2 L435.0,539.2 L435.6,539.2 L436.5,539.4 L437.4,539.8 L438.3,540.4 L439.8,541.6 L443.1,544.7 L444.7,546.0 L446.4,547.3 L448.2,548.2 L450.2,548.9 L452.4,549.3 L455.0,549.5 L458.8,549.6 L458.78,549.60 L411.16,549.60 Z" fill="rgba(90,170,165,0.55)" stroke="none"/>
<path d="M411.2,549.6 L414.9,549.5 L417.6,549.3 L419.8,548.9 L421.7,548.2 L423.5,547.3 L425.3,546.0 L426.8,544.7 L430.1,541.6 L431.7,540.4 L432.5,539.8 L433.4,539.4 L434.3,539.2 L435.0,539.2 L435.6,539.2 L436.5,539.4 L437.4,539.8 L438.3,540.4 L439.8,541.6 L443.1,544.7 L444.7,546.0 L446.4,547.3 L448.2,548.2 L450.2,548.9 L452.4,549.3 L455.0,549.5 L458.8,549.6" fill="none" stroke="#80c0c0" stroke-width="0.5"/>
<path d="M410.3,549.6 L418.0,549.5 L423.3,549.4 L427.7,549.1 L431.7,548.7 L435.0,548.2 L438.5,547.5 L441.6,546.7 L448.2,544.9 L451.5,544.2 L454.8,543.6 L456.4,543.5 L457.9,543.5 L459.4,543.5 L461.0,543.6 L464.3,544.2 L467.6,544.9 L474.2,546.7 L477.3,547.5 L480.8,548.2 L484.1,548.7 L488.1,549.1 L492.5,549.4 L497.8,549.5 L505.5,549.6 L505.53,549.60 L410.27,549.60 Z" fill="rgba(170,110,190,0.45)" stroke="none"/>
<path d="M443.7,549.6 L457.6,549.5 L462.4,549.4 L466.6,549.2 L470.2,548.9 L473.9,548.5 L484.3,547.2 L487.6,546.9 L491.1,546.6 L494.4,546.5 L497.9,546.6 L501.5,546.9 L515.1,548.6 L518.9,548.9 L522.4,549.2 L526.6,549.4 L531.2,549.5 L545.1,549.6 L545.13,549.60 L443.70,549.60 Z" fill="rgba(255,150,190,0.55)" stroke="none"/>
<path d="M471.9,549.6 L482.7,549.6 L490.2,549.4 L496.4,549.3 L501.9,549.0 L506.5,548.6 L511.4,548.0 L525.1,546.1 L529.5,545.5 L534.1,545.1 L538.5,545.0 L542.9,545.1 L547.6,545.5 L552.0,546.1 L565.9,548.0 L570.7,548.6 L575.3,549.0 L580.9,549.3 L587.0,549.4 L594.5,549.6 L605.1,549.6 L605.11,549.60 L471.93,549.60 Z" fill="rgba(130,215,160,0.7)" stroke="none"/>
<path d="M352.1,522.8 L352.9,495.6 L354.7,425.9 L355.1,412.3 L355.6,401.4 L355.8,398.1 L356.0,396.3 L356.3,395.3 L356.5,394.7 L356.7,394.3 L356.9,394.1 L357.4,393.7 L358.0,391.9 L358.7,389.5 L359.6,384.9 L361.5,372.8 L362.0,370.9 L362.4,369.8 L362.6,370.2 L362.9,371.0 L364.0,376.1 L364.6,377.7 L365.1,378.6 L365.5,379.2 L365.7,379.3 L366.0,379.0 L366.4,377.9 L367.9,373.0 L368.4,372.0 L368.6,371.6 L368.8,371.4 L369.0,371.4 L369.5,372.7 L369.9,374.6 L371.0,380.1 L371.7,384.4 L372.3,389.7 L373.7,401.5 L374.6,408.2 L377.0,423.1 L379.8,439.8 L383.2,462.0 L384.0,467.2 L384.9,471.7 L385.8,475.4 L386.7,478.5 L387.3,480.3 L388.0,481.9 L388.7,483.2 L389.5,484.7 L390.2,485.6 L391.1,486.6 L394.0,489.4 L395.1,490.5 L396.2,492.0 L397.3,493.7 L398.1,495.3 L399.2,497.6 L403.0,506.2 L403.7,507.5 L404.5,509.0 L405.4,510.3 L406.3,511.3 L407.4,512.4 L408.5,513.2 L409.8,514.0 L410.5,514.2 L411.2,514.3 L411.8,514.4 L412.7,514.3 L414.7,514.0 L416.4,513.5 L418.4,512.7 L420.4,511.7 L425.7,508.7 L427.3,508.0 L428.6,507.5 L430.6,506.9 L432.1,506.8 L433.4,506.9 L434.7,507.3 L436.1,507.9 L437.4,508.9 L438.9,510.2 L440.7,512.0 L442.5,514.0 L444.7,516.7 L446.7,519.3 L450.6,524.7 L453.1,527.8 L454.6,529.5 L455.9,530.9 L457.2,532.1 L458.8,533.4 L460.8,534.7 L463.0,536.0 L467.2,538.1 L469.6,539.2 L471.4,539.8 L473.6,540.4 L476.6,541.1 L480.0,541.7 L482.6,542.1 L485.5,542.4 L494.3,543.1 L504.9,544.1 L509.7,544.4 L514.6,544.6 L536.6,544.6 L539.0,544.6 L541.9,544.8 L545.0,545.1 L547.2,545.4 L554.7,546.6 L562.6,547.8 L569.3,548.5 L574.1,548.9 L580.1,549.1 L585.6,549.2 L604.8,549.4 L624.6,549.4" fill="none" stroke="#111" stroke-width="1.7" stroke-linejoin="round" stroke-linecap="butt"/>
<path d="M352.1,522.8 L352.9,495.6 L354.0,451.6 L354.7,427.7 L355.1,415.0 L355.6,405.0 L355.8,401.3 L356.0,399.0 L356.5,396.5 L356.9,395.0 L358.2,391.1 L358.9,388.5 L359.6,384.9 L360.9,376.8 L361.3,374.6 L361.8,372.9 L362.0,372.4 L362.2,372.0 L362.4,371.9 L362.6,371.9 L362.9,372.1 L363.1,372.4 L364.9,376.2 L365.3,376.9 L365.5,377.1 L365.7,377.2 L366.0,377.2 L366.2,377.1 L366.6,376.5 L367.7,374.3 L368.2,373.6 L368.4,373.4 L368.6,373.3 L368.8,373.3 L369.0,373.5 L369.3,373.8 L369.7,374.9 L370.1,376.3 L370.6,378.0 L371.2,381.4 L371.7,384.4 L372.3,389.7 L373.7,401.5 L374.6,408.2 L377.0,423.1 L379.8,439.8 L383.2,462.0 L384.0,467.2 L384.9,471.7 L385.8,475.4 L386.7,478.5 L387.3,480.3 L388.0,481.9 L388.7,483.2 L389.5,484.7 L390.2,485.6 L391.1,486.6 L394.0,489.4 L395.1,490.5 L396.2,492.0 L397.3,493.7 L398.1,495.3 L399.2,497.6 L403.0,506.2 L403.7,507.5 L404.5,509.0 L405.4,510.3 L406.3,511.3 L407.4,512.4 L408.5,513.2 L409.8,514.0 L410.5,514.2 L411.2,514.3 L411.8,514.4 L412.7,514.3 L414.7,514.0 L416.4,513.5 L418.4,512.7 L420.4,511.7 L425.7,508.7 L427.3,508.0 L428.6,507.5 L430.6,506.9 L432.1,506.8 L433.4,506.9 L434.7,507.3 L436.1,507.9 L437.4,508.9 L438.9,510.2 L440.7,512.0 L442.5,514.0 L444.7,516.7 L446.7,519.3 L450.6,524.7 L453.1,527.8 L454.6,529.5 L455.9,530.9 L457.2,532.1 L458.8,533.4 L460.8,534.7 L463.0,536.0 L467.2,538.1 L469.6,539.2 L471.4,539.8 L473.6,540.4 L476.6,541.1 L480.0,541.7 L482.6,542.1 L485.5,542.4 L494.3,543.1 L504.9,544.1 L509.7,544.4 L514.6,544.6 L536.6,544.6 L539.0,544.6 L541.9,544.8 L545.0,545.1 L547.2,545.4 L554.7,546.6 L562.6,547.8 L569.3,548.5 L574.1,548.9 L580.1,549.1 L585.6,549.2 L604.8,549.4 L624.6,549.4" fill="none" stroke="#fa0404" stroke-width="2.05" stroke-linejoin="round" stroke-linecap="butt"/>
<rect x="350.50" y="351.10" width="274.20" height="198.50" fill="none" stroke="#555" stroke-width="1.15"/>
<line x1="360.00" y1="549.60" x2="360.00" y2="552.60" stroke="#555" stroke-width="1.15" stroke-linecap="butt"/>
<text x="360.00" y="564.00" font-size="10.2" text-anchor="middle" fill="#111" >200</text>
<line x1="404.10" y1="549.60" x2="404.10" y2="552.60" stroke="#555" stroke-width="1.15" stroke-linecap="butt"/>
<text x="404.10" y="564.00" font-size="10.2" text-anchor="middle" fill="#111" >300</text>
<line x1="448.20" y1="549.60" x2="448.20" y2="552.60" stroke="#555" stroke-width="1.15" stroke-linecap="butt"/>
<text x="448.20" y="564.00" font-size="10.2" text-anchor="middle" fill="#111" >400</text>
<line x1="492.30" y1="549.60" x2="492.30" y2="552.60" stroke="#555" stroke-width="1.15" stroke-linecap="butt"/>
<text x="492.30" y="564.00" font-size="10.2" text-anchor="middle" fill="#111" >500</text>
<line x1="536.40" y1="549.60" x2="536.40" y2="552.60" stroke="#555" stroke-width="1.15" stroke-linecap="butt"/>
<text x="536.40" y="564.00" font-size="10.2" text-anchor="middle" fill="#111" >600</text>
<line x1="580.50" y1="549.60" x2="580.50" y2="552.60" stroke="#555" stroke-width="1.15" stroke-linecap="butt"/>
<text x="580.50" y="564.00" font-size="10.2" text-anchor="middle" fill="#111" >700</text>
<line x1="624.60" y1="549.60" x2="624.60" y2="552.60" stroke="#555" stroke-width="1.15" stroke-linecap="butt"/>
<text x="624.60" y="564.00" font-size="10.2" text-anchor="middle" fill="#111" >800</text>
<line x1="382.05" y1="549.60" x2="382.05" y2="551.20" stroke="#555" stroke-width="1.15" stroke-linecap="butt"/>
<line x1="426.15" y1="549.60" x2="426.15" y2="551.20" stroke="#555" stroke-width="1.15" stroke-linecap="butt"/>
<line x1="470.25" y1="549.60" x2="470.25" y2="551.20" stroke="#555" stroke-width="1.15" stroke-linecap="butt"/>
<line x1="514.35" y1="549.60" x2="514.35" y2="551.20" stroke="#555" stroke-width="1.15" stroke-linecap="butt"/>
<line x1="558.45" y1="549.60" x2="558.45" y2="551.20" stroke="#555" stroke-width="1.15" stroke-linecap="butt"/>
<line x1="602.55" y1="549.60" x2="602.55" y2="551.20" stroke="#555" stroke-width="1.15" stroke-linecap="butt"/>
<line x1="347.50" y1="549.60" x2="350.50" y2="549.60" stroke="#555" stroke-width="1.15" stroke-linecap="butt"/>
<text x="344.60" y="553.40" font-size="10.7" text-anchor="end" fill="#111" >0,0</text>
<line x1="347.50" y1="513.62" x2="350.50" y2="513.62" stroke="#555" stroke-width="1.15" stroke-linecap="butt"/>
<text x="344.60" y="517.42" font-size="10.7" text-anchor="end" fill="#111" >0,2</text>
<line x1="347.50" y1="477.64" x2="350.50" y2="477.64" stroke="#555" stroke-width="1.15" stroke-linecap="butt"/>
<text x="344.60" y="481.44" font-size="10.7" text-anchor="end" fill="#111" >0,4</text>
<line x1="347.50" y1="441.66" x2="350.50" y2="441.66" stroke="#555" stroke-width="1.15" stroke-linecap="butt"/>
<text x="344.60" y="445.46" font-size="10.7" text-anchor="end" fill="#111" >0,6</text>
<line x1="347.50" y1="405.68" x2="350.50" y2="405.68" stroke="#555" stroke-width="1.15" stroke-linecap="butt"/>
<text x="344.60" y="409.48" font-size="10.7" text-anchor="end" fill="#111" >0,8</text>
<line x1="347.50" y1="369.70" x2="350.50" y2="369.70" stroke="#555" stroke-width="1.15" stroke-linecap="butt"/>
<text x="344.60" y="373.50" font-size="10.7" text-anchor="end" fill="#111" >1,0</text>
<line x1="348.90" y1="531.61" x2="350.50" y2="531.61" stroke="#555" stroke-width="1.15" stroke-linecap="butt"/>
<line x1="348.90" y1="495.63" x2="350.50" y2="495.63" stroke="#555" stroke-width="1.15" stroke-linecap="butt"/>
<line x1="348.90" y1="459.65" x2="350.50" y2="459.65" stroke="#555" stroke-width="1.15" stroke-linecap="butt"/>
<line x1="348.90" y1="423.67" x2="350.50" y2="423.67" stroke="#555" stroke-width="1.15" stroke-linecap="butt"/>
<line x1="348.90" y1="387.69" x2="350.50" y2="387.69" stroke="#555" stroke-width="1.15" stroke-linecap="butt"/>
<text x="443.70" y="574.30" font-size="10.7" text-anchor="start" fill="#111" textLength="86.00" lengthAdjust="spacingAndGlyphs" >Wavelength (nm)</text>
<text x="328.20" y="448.10" font-size="10.6" text-anchor="middle" fill="#111" transform="rotate(-90 328.20 448.10)" textLength="143.40" lengthAdjust="spacingAndGlyphs" >Normalized absorption (u.a.)</text>
<text x="327.00" y="356.50" font-size="15.5" text-anchor="start" fill="#111" textLength="19.30" lengthAdjust="spacingAndGlyphs" >(c)</text>
<line x1="502.70" y1="366.30" x2="525.20" y2="366.30" stroke="#111" stroke-width="1.5" stroke-linecap="butt"/>
<text x="529.60" y="369.60" font-size="10.7" text-anchor="start" fill="#111" textLength="79.70" lengthAdjust="spacingAndGlyphs" >extract at pH 12</text>
<line x1="447.10" y1="409.70" x2="466.50" y2="420.90" stroke="#111" stroke-width="1.9" stroke-linecap="round"/>
<line x1="466.50" y1="420.90" x2="466.50" y2="443.40" stroke="#111" stroke-width="1.9" stroke-linecap="round"/>
<line x1="466.50" y1="443.40" x2="447.10" y2="454.20" stroke="#111" stroke-width="1.9" stroke-linecap="round"/>
<line x1="447.10" y1="454.20" x2="427.80" y2="443.40" stroke="#111" stroke-width="1.9" stroke-linecap="round"/>
<line x1="427.80" y1="443.40" x2="427.80" y2="420.90" stroke="#111" stroke-width="1.9" stroke-linecap="round"/>
<line x1="427.80" y1="420.90" x2="447.10" y2="409.70" stroke="#111" stroke-width="1.9" stroke-linecap="round"/>
<line x1="448.12" y1="414.21" x2="462.08" y2="422.28" stroke="#111" stroke-width="1.9" stroke-linecap="round"/>
<line x1="431.20" y1="440.25" x2="431.20" y2="424.05" stroke="#111" stroke-width="1.9" stroke-linecap="round"/>
<line x1="462.13" y1="441.94" x2="448.16" y2="449.72" stroke="#111" stroke-width="1.9" stroke-linecap="round"/>
<line x1="427.80" y1="420.90" x2="414.30" y2="413.10" stroke="#111" stroke-width="1.9" stroke-linecap="round"/>
<line x1="466.50" y1="420.90" x2="479.60" y2="413.10" stroke="#111" stroke-width="1.9" stroke-linecap="round"/>
<line x1="447.10" y1="454.20" x2="447.10" y2="470.30" stroke="#111" stroke-width="1.9" stroke-linecap="round"/>
<line x1="466.50" y1="443.40" x2="484.90" y2="454.20" stroke="#111" stroke-width="1.9" stroke-linecap="round"/>
<line x1="484.90" y1="454.20" x2="507.50" y2="454.20" stroke="#111" stroke-width="1.9" stroke-linecap="round"/>
<line x1="486.40" y1="450.40" x2="505.50" y2="450.40" stroke="#111" stroke-width="1.9" stroke-linecap="round"/>
<line x1="507.50" y1="454.20" x2="518.60" y2="435.20" stroke="#111" stroke-width="1.9" stroke-linecap="round"/>
<line x1="518.60" y1="435.20" x2="510.20" y2="421.40" stroke="#111" stroke-width="1.9" stroke-linecap="round"/>
<line x1="521.80" y1="434.00" x2="513.30" y2="419.90" stroke="#111" stroke-width="1.9" stroke-linecap="round"/>
<line x1="507.50" y1="454.20" x2="514.40" y2="466.20" stroke="#111" stroke-width="1.9" stroke-linecap="round"/>
<line x1="518.60" y1="435.20" x2="543.80" y2="434.60" stroke="#111" stroke-width="1.9" stroke-linecap="round"/>
<line x1="543.80" y1="434.60" x2="554.80" y2="415.20" stroke="#111" stroke-width="1.9" stroke-linecap="round"/>
<line x1="554.80" y1="415.20" x2="576.80" y2="415.20" stroke="#111" stroke-width="1.9" stroke-linecap="round"/>
<line x1="576.80" y1="415.20" x2="587.80" y2="434.60" stroke="#111" stroke-width="1.9" stroke-linecap="round"/>
<line x1="587.80" y1="434.60" x2="576.80" y2="453.90" stroke="#111" stroke-width="1.9" stroke-linecap="round"/>
<line x1="576.80" y1="453.90" x2="554.80" y2="453.90" stroke="#111" stroke-width="1.9" stroke-linecap="round"/>
<line x1="554.80" y1="453.90" x2="543.80" y2="434.60" stroke="#111" stroke-width="1.9" stroke-linecap="round"/>
<line x1="557.88" y1="418.60" x2="573.72" y2="418.60" stroke="#111" stroke-width="1.9" stroke-linecap="round"/>
<line x1="583.31" y1="435.62" x2="575.39" y2="449.51" stroke="#111" stroke-width="1.9" stroke-linecap="round"/>
<line x1="556.21" y1="449.51" x2="548.29" y2="435.62" stroke="#111" stroke-width="1.9" stroke-linecap="round"/>
<line x1="587.80" y1="434.60" x2="605.00" y2="434.60" stroke="#111" stroke-width="1.9" stroke-linecap="round"/>
<line x1="576.80" y1="453.90" x2="584.30" y2="466.20" stroke="#111" stroke-width="1.9" stroke-linecap="round"/>
<text x="396.50" y="413.80" font-size="11" text-anchor="start" fill="#111" textLength="16.40" lengthAdjust="spacingAndGlyphs" >HO</text>
<text x="481.40" y="413.80" font-size="11" text-anchor="start" fill="#111" textLength="15.80" lengthAdjust="spacingAndGlyphs" >OH</text>
<text x="443.50" y="480.30" font-size="11" text-anchor="start" fill="#111" textLength="15.90" lengthAdjust="spacingAndGlyphs" >OH</text>
<text x="507.80" y="419.80" font-size="11" text-anchor="middle" fill="#111" >O</text>
<text x="514.60" y="477.40" font-size="11" text-anchor="start" fill="#111" textLength="16.50" lengthAdjust="spacingAndGlyphs" >OH</text>
<text x="606.50" y="438.50" font-size="11" text-anchor="start" fill="#111" textLength="16.00" lengthAdjust="spacingAndGlyphs" >OH</text>
<text x="584.00" y="477.40" font-size="11" text-anchor="start" fill="#111" >O</text>
<line x1="593.30" y1="467.20" x2="597.60" y2="467.20" stroke="#111" stroke-width="1.0" stroke-linecap="butt"/>
<text x="444.10" y="438.20" font-size="12.5" text-anchor="middle" fill="#111" >A</text>
<text x="485.90" y="437.90" font-size="12.5" text-anchor="middle" fill="#111" >C</text>
<text x="565.40" y="438.00" font-size="12.5" text-anchor="middle" fill="#111" >B</text>
</g>
<g font-family="Liberation Sans, sans-serif" font-weight="bold">
<path d="M31.7,789.6 L33.2,788.5 L34.5,787.4 L36.1,785.9 L37.4,784.5 L38.7,783.0 L40.1,781.2 L41.4,779.3 L42.9,776.9 L45.4,772.7 L47.8,768.1 L50.2,763.1 L55.3,752.2 L57.7,747.3 L59.9,743.3 L61.9,740.1 L63.0,738.7 L63.9,737.6 L65.0,736.5 L65.9,735.7 L67.0,735.0 L67.9,734.7 L69.0,734.4 L69.9,734.4 L70.8,734.5 L71.9,734.9 L72.8,735.4 L73.9,736.2 L74.8,737.1 L75.9,738.3 L77.0,739.8 L78.1,741.4 L80.1,744.8 L82.0,748.5 L84.3,753.1 L90.4,766.2 L92.4,770.1 L94.4,773.8 L96.6,777.6 L98.8,780.9 L101.1,783.7 L103.3,786.1 L104.4,787.1 L105.7,788.3 L107.0,789.2 L108.3,790.1 L109.7,790.8 L111.0,791.5 L112.5,792.1 L114.1,792.6 L117.2,793.4 L120.9,794.0 L125.1,794.3 L130.7,794.5 L130.67,794.60 L31.66,794.60 Z" fill="rgba(128,128,128,0.5)" stroke="none"/>
<path d="M31.7,789.6 L33.2,788.5 L34.5,787.4 L36.1,785.9 L37.4,784.5 L38.7,783.0 L40.1,781.2 L41.4,779.3 L42.9,776.9 L45.4,772.7 L47.8,768.1 L50.2,763.1 L55.3,752.2 L57.7,747.3 L59.9,743.3 L61.9,740.1 L63.0,738.7 L63.9,737.6 L65.0,736.5 L65.9,735.7 L67.0,735.0 L67.9,734.7 L69.0,734.4 L69.9,734.4 L70.8,734.5 L71.9,734.9 L72.8,735.4 L73.9,736.2 L74.8,737.1 L75.9,738.3 L77.0,739.8 L78.1,741.4 L80.1,744.8 L82.0,748.5 L84.3,753.1 L90.4,766.2 L92.4,770.1 L94.4,773.8 L96.6,777.6 L98.8,780.9 L101.1,783.7 L103.3,786.1 L104.4,787.1 L105.7,788.3 L107.0,789.2 L108.3,790.1 L109.7,790.8 L111.0,791.5 L112.5,792.1 L114.1,792.6 L117.2,793.4 L120.9,794.0 L125.1,794.3 L130.7,794.5" fill="none" stroke="#e89ae8" stroke-width="0.8"/>
<path d="M59.4,794.6 L64.3,794.5 L68.3,794.3 L71.6,794.1 L74.4,793.8 L77.1,793.4 L79.5,792.8 L82.0,792.0 L84.2,791.1 L86.2,790.1 L87.9,789.1 L89.9,787.8 L91.9,786.3 L93.7,784.8 L95.4,783.2 L103.2,775.8 L104.9,774.3 L106.7,772.9 L108.7,771.7 L109.8,771.1 L110.7,770.8 L112.5,770.3 L113.3,770.1 L114.2,770.1 L115.1,770.1 L116.0,770.2 L117.8,770.7 L118.6,771.0 L119.8,771.6 L121.7,772.8 L123.5,774.2 L125.5,775.9 L133.2,783.2 L135.0,784.8 L136.8,786.3 L138.8,787.8 L140.7,789.1 L142.5,790.2 L144.5,791.1 L146.7,792.0 L148.9,792.7 L151.4,793.3 L154.0,793.8 L156.9,794.1 L160.2,794.3 L164.2,794.5 L169.0,794.6 L169.03,794.60 L59.42,794.60 Z" fill="rgba(128,128,128,0.5)" stroke="none"/>
<path d="M59.4,794.6 L64.3,794.5 L68.3,794.3 L71.6,794.1 L74.4,793.8 L77.1,793.4 L79.5,792.8 L82.0,792.0 L84.2,791.1 L86.2,790.1 L87.9,789.1 L89.9,787.8 L91.9,786.3 L93.7,784.8 L95.4,783.2 L103.2,775.8 L104.9,774.3 L106.7,772.9 L108.7,771.7 L109.8,771.1 L110.7,770.8 L112.5,770.3 L113.3,770.1 L114.2,770.1 L115.1,770.1 L116.0,770.2 L117.8,770.7 L118.6,771.0 L119.8,771.6 L121.7,772.8 L123.5,774.2 L125.5,775.9 L133.2,783.2 L135.0,784.8 L136.8,786.3 L138.8,787.8 L140.7,789.1 L142.5,790.2 L144.5,791.1 L146.7,792.0 L148.9,792.7 L151.4,793.3 L154.0,793.8 L156.9,794.1 L160.2,794.3 L164.2,794.5 L169.0,794.6" fill="none" stroke="#7ce47c" stroke-width="0.8"/>
<path d="M90.2,794.6 L94.6,794.5 L98.1,794.3 L101.0,794.1 L103.7,793.7 L106.1,793.2 L108.3,792.5 L110.3,791.7 L112.3,790.7 L114.0,789.6 L115.8,788.3 L117.6,786.8 L119.4,785.1 L120.9,783.5 L122.7,781.5 L129.5,773.2 L131.3,771.3 L132.8,769.8 L134.6,768.4 L136.1,767.5 L137.0,767.2 L137.9,766.9 L138.8,766.7 L139.5,766.7 L140.1,766.7 L141.0,766.9 L141.9,767.1 L142.8,767.5 L144.3,768.4 L146.1,769.7 L147.6,771.2 L149.4,773.1 L156.5,781.6 L159.6,785.1 L161.3,786.8 L163.1,788.3 L164.9,789.6 L166.6,790.7 L168.6,791.7 L170.6,792.5 L172.8,793.2 L175.3,793.7 L177.9,794.1 L180.8,794.3 L184.3,794.5 L188.7,794.6 L188.75,794.60 L90.18,794.60 Z" fill="rgba(120,225,225,0.5)" stroke="none"/>
<path d="M90.2,794.6 L94.6,794.5 L98.1,794.3 L101.0,794.1 L103.7,793.7 L106.1,793.2 L108.3,792.5 L110.3,791.7 L112.3,790.7 L114.0,789.6 L115.8,788.3 L117.6,786.8 L119.4,785.1 L120.9,783.5 L122.7,781.5 L129.5,773.2 L131.3,771.3 L132.8,769.8 L134.6,768.4 L136.1,767.5 L137.0,767.2 L137.9,766.9 L138.8,766.7 L139.5,766.7 L140.1,766.7 L141.0,766.9 L141.9,767.1 L142.8,767.5 L144.3,768.4 L146.1,769.7 L147.6,771.2 L149.4,773.1 L156.5,781.6 L159.6,785.1 L161.3,786.8 L163.1,788.3 L164.9,789.6 L166.6,790.7 L168.6,791.7 L170.6,792.5 L172.8,793.2 L175.3,793.7 L177.9,794.1 L180.8,794.3 L184.3,794.5 L188.7,794.6" fill="none" stroke="#e8a0e0" stroke-width="0.8"/>
<path d="M31.7,773.3 L32.1,765.3 L32.8,750.1 L34.5,698.9 L35.0,687.6 L35.4,678.7 L35.6,675.5 L35.9,673.1 L36.1,671.6 L36.3,671.1 L36.5,671.6 L36.7,673.1 L37.0,675.5 L37.2,678.7 L37.6,687.6 L38.1,698.9 L39.8,750.1 L40.5,765.3 L41.2,776.7 L41.8,784.4 L42.3,787.8 L42.7,790.3 L43.2,791.9 L43.4,792.5 L43.8,793.4 L44.0,793.7 L44.5,794.1 L45.1,794.4" fill="none" stroke="#f41818" stroke-width="1.2"/>
<path d="M31.7,794.0 L32.3,793.4 L33.0,792.3 L33.6,790.5 L34.1,788.7 L34.5,786.4 L35.0,783.3 L35.4,779.4 L35.9,774.5 L36.5,765.2 L37.4,749.2 L39.6,699.1 L40.3,686.2 L40.7,679.5 L41.2,674.9 L41.4,673.4 L41.6,672.5 L41.8,672.2 L42.0,672.5 L42.3,673.4 L42.5,674.9 L42.9,679.5 L43.4,686.2 L44.0,699.1 L45.8,739.8 L46.5,753.6 L47.4,768.6 L48.0,777.1 L48.5,781.5 L48.9,784.9 L49.3,787.6 L50.0,790.5 L50.7,792.3 L51.3,793.4 L51.8,793.8 L52.2,794.1 L53.1,794.4" fill="none" stroke="#8e2020" stroke-width="1.2"/>
<path d="M32.4,794.4 L33.7,794.2 L34.4,793.9 L34.8,793.7 L35.7,792.9 L36.2,792.4 L36.6,791.7 L37.1,790.8 L37.5,789.7 L38.2,787.6 L38.8,784.9 L39.5,781.3 L40.1,776.9 L40.6,773.4 L41.3,767.3 L41.9,760.3 L43.0,746.9 L45.0,720.6 L46.1,708.0 L46.8,702.3 L47.2,699.5 L47.7,697.6 L47.9,697.0 L48.1,696.6 L48.3,696.5 L48.5,696.6 L48.8,697.0 L49.0,697.6 L49.4,699.5 L49.9,702.3 L50.5,708.0 L51.6,720.6 L53.6,746.9 L54.7,760.3 L55.4,767.3 L56.1,773.4 L56.5,776.9 L57.2,781.3 L57.8,784.9 L58.5,787.6 L59.2,789.7 L59.6,790.8 L60.0,791.7 L60.5,792.4 L60.9,792.9 L61.8,793.7 L62.2,793.9 L62.9,794.2 L64.2,794.4" fill="none" stroke="#1818f4" stroke-width="1.3"/>
<path d="M34.9,794.5 L36.9,794.4 L38.5,794.2 L39.8,793.9 L40.9,793.4 L42.0,792.7 L43.1,791.7 L44.0,790.6 L44.9,789.3 L45.8,787.6 L46.4,786.1 L47.3,783.8 L48.2,781.2 L49.5,776.7 L52.6,765.2 L53.5,762.2 L54.2,760.3 L55.0,758.2 L55.7,757.0 L56.1,756.4 L56.6,756.1 L57.0,755.9 L57.3,755.9 L57.5,755.9 L57.9,756.1 L58.4,756.5 L58.8,757.1 L59.5,758.3 L60.3,760.5 L61.7,764.7 L64.8,776.2 L66.3,781.5 L67.2,784.1 L67.9,785.8 L68.5,787.3 L69.4,789.1 L70.3,790.5 L71.2,791.6 L72.3,792.6 L73.4,793.3 L74.5,793.8 L75.8,794.2 L77.4,794.4 L79.4,794.5" fill="none" stroke="#18b4b4" stroke-width="1.3"/>
<path d="M59.1,794.6 L65.3,794.5 L69.7,794.3 L73.3,793.9 L76.3,793.3 L79.0,792.5 L81.9,791.4 L84.3,790.2 L89.6,787.5 L92.0,786.4 L93.4,786.0 L94.7,785.6 L96.0,785.4 L97.3,785.4 L98.4,785.4 L99.8,785.6 L101.1,785.9 L102.4,786.4 L105.1,787.5 L110.4,790.3 L112.8,791.4 L115.7,792.5 L118.3,793.3 L121.4,793.9 L125.0,794.3 L129.2,794.5 L135.4,794.6" fill="none" stroke="#18a418" stroke-width="1.3"/>
<path d="M123.5,794.6 L131.7,794.5 L137.4,794.3 L142.3,793.9 L146.5,793.3 L150.0,792.5 L153.8,791.4 L157.1,790.2 L164.2,787.5 L167.5,786.4 L169.3,786.0 L171.0,785.6 L172.8,785.4 L174.3,785.4 L176.1,785.4 L177.9,785.6 L179.6,786.0 L181.4,786.4 L184.7,787.5 L191.8,790.3 L195.1,791.4 L198.9,792.5 L202.4,793.3 L206.6,793.9 L211.2,794.3 L217.0,794.5 L225.2,794.6" fill="none" stroke="#f8901c" stroke-width="1.1"/>
<path d="M112.0,794.6 L139.0,794.5 L148.3,794.3 L156.4,794.1 L163.5,793.8 L170.6,793.3 L190.7,791.7 L197.3,791.3 L204.2,791.0 L210.6,790.9 L217.2,791.0 L224.1,791.3 L230.7,791.7 L250.6,793.3 L257.4,793.7 L264.3,794.0 L272.0,794.3 L280.9,794.5 L305.6,794.6" fill="none" stroke="#2a8a2a" stroke-width="1.0"/>
<path d="M32.3,767.9 L33.0,720.3 L33.6,679.9 L34.1,662.9 L34.3,656.6 L34.8,647.1 L35.2,640.6 L35.4,638.2 L36.1,633.6 L37.0,629.0 L37.6,626.5 L38.1,625.3 L38.7,623.6 L40.5,617.4 L40.9,616.9 L41.2,616.8 L41.4,616.7 L41.6,616.8 L41.8,617.0 L42.0,617.4 L42.7,619.1 L43.4,621.7 L44.0,625.1 L44.7,629.2 L46.2,639.6 L48.5,651.8 L50.2,662.4 L51.5,671.7 L53.3,685.0 L54.2,690.8 L55.1,695.7 L55.7,699.0 L56.2,700.8 L56.9,702.9 L58.2,706.2 L59.9,709.9 L62.4,715.7 L63.5,718.1 L64.4,719.9 L65.7,722.2 L69.5,728.3 L71.4,731.1 L75.9,736.3 L78.3,739.3 L80.3,742.0 L85.4,749.2 L86.9,751.2 L88.0,752.5 L89.3,753.8 L90.7,754.9 L92.2,756.1 L93.8,757.0 L95.8,758.0 L97.5,758.8 L99.3,759.4 L101.5,759.9 L104.1,760.4 L106.4,760.7 L108.1,760.8 L109.7,760.7 L111.4,760.5 L114.1,760.1 L116.5,759.5 L121.2,758.3 L129.1,755.8 L130.9,755.4 L132.0,755.3 L133.3,755.3 L134.6,755.5 L136.2,755.9 L137.7,756.5 L139.5,757.4 L141.3,758.6 L143.3,760.2 L145.5,762.1 L147.9,764.4 L150.6,767.1 L155.4,772.2 L159.0,775.6 L160.9,777.3 L163.2,779.0 L164.9,780.3 L166.7,781.3 L168.5,782.2 L169.3,782.5 L171.1,783.1 L173.1,783.6 L176.4,784.2 L181.9,785.0 L191.9,787.4 L196.5,788.3 L202.1,789.1 L208.7,789.9 L217.3,790.7 L221.9,790.9 L243.4,791.9 L261.7,792.5 L286.0,793.3 L305.7,793.7" fill="none" stroke="#111" stroke-width="1.7" stroke-linejoin="round" stroke-linecap="butt"/>
<path d="M32.3,767.9 L33.0,720.3 L33.6,679.9 L33.9,670.2 L34.3,656.6 L34.5,651.4 L35.0,643.6 L35.2,640.6 L35.6,636.4 L36.3,632.4 L37.2,628.1 L37.6,626.5 L38.3,624.7 L40.5,619.5 L40.9,618.5 L41.4,617.8 L41.6,617.6 L41.8,617.5 L42.0,617.7 L42.3,618.0 L42.5,618.5 L42.9,619.8 L43.4,621.7 L44.0,625.1 L44.7,629.2 L46.5,641.3 L48.5,653.4 L50.9,669.4 L53.1,685.2 L53.8,689.5 L54.4,693.3 L55.3,697.8 L56.0,700.7 L56.6,702.8 L57.3,704.3 L59.9,709.9 L62.4,715.7 L63.7,718.6 L65.9,722.6 L68.3,726.6 L69.7,728.7 L71.7,731.4 L75.9,736.3 L78.3,739.3 L80.3,742.0 L85.4,749.2 L86.9,751.2 L88.0,752.5 L89.3,753.8 L90.7,754.9 L92.2,756.1 L93.8,757.0 L95.8,758.0 L97.5,758.8 L99.3,759.4 L101.5,759.9 L104.1,760.4 L106.4,760.7 L108.1,760.8 L109.7,760.7 L111.4,760.5 L114.1,760.1 L116.5,759.5 L121.2,758.3 L129.1,755.8 L130.9,755.4 L132.0,755.3 L133.3,755.3 L134.6,755.5 L136.2,755.9 L137.7,756.5 L139.5,757.4 L141.5,758.8 L143.5,760.3 L145.7,762.3 L148.1,764.6 L150.6,767.1 L155.4,772.2 L158.7,775.4 L160.7,777.2 L162.7,778.7 L164.5,780.0 L166.2,781.0 L168.2,782.1 L170.2,782.9 L172.2,783.6 L174.4,784.3 L177.5,785.0 L183.5,786.2 L191.7,788.0 L195.0,788.6 L199.4,789.3 L206.2,789.9 L214.9,790.5 L224.8,791.1 L246.0,792.0 L262.8,792.6 L286.5,793.3 L305.7,793.7" fill="none" stroke="#fa0404" stroke-width="2.05" stroke-linejoin="round" stroke-linecap="butt"/>
<rect x="31.50" y="598.60" width="274.20" height="196.00" fill="none" stroke="#555" stroke-width="1.15"/>
<line x1="40.50" y1="794.60" x2="40.50" y2="797.60" stroke="#555" stroke-width="1.15" stroke-linecap="butt"/>
<text x="40.50" y="808.00" font-size="10.2" text-anchor="middle" fill="#111" >200</text>
<line x1="84.70" y1="794.60" x2="84.70" y2="797.60" stroke="#555" stroke-width="1.15" stroke-linecap="butt"/>
<text x="84.70" y="808.00" font-size="10.2" text-anchor="middle" fill="#111" >300</text>
<line x1="128.90" y1="794.60" x2="128.90" y2="797.60" stroke="#555" stroke-width="1.15" stroke-linecap="butt"/>
<text x="128.90" y="808.00" font-size="10.2" text-anchor="middle" fill="#111" >400</text>
<line x1="173.10" y1="794.60" x2="173.10" y2="797.60" stroke="#555" stroke-width="1.15" stroke-linecap="butt"/>
<text x="173.10" y="808.00" font-size="10.2" text-anchor="middle" fill="#111" >500</text>
<line x1="217.30" y1="794.60" x2="217.30" y2="797.60" stroke="#555" stroke-width="1.15" stroke-linecap="butt"/>
<text x="217.30" y="808.00" font-size="10.2" text-anchor="middle" fill="#111" >600</text>
<line x1="261.50" y1="794.60" x2="261.50" y2="797.60" stroke="#555" stroke-width="1.15" stroke-linecap="butt"/>
<text x="261.50" y="808.00" font-size="10.2" text-anchor="middle" fill="#111" >700</text>
<line x1="305.70" y1="794.60" x2="305.70" y2="797.60" stroke="#555" stroke-width="1.15" stroke-linecap="butt"/>
<text x="305.70" y="808.00" font-size="10.2" text-anchor="middle" fill="#111" >800</text>
<line x1="62.60" y1="794.60" x2="62.60" y2="796.20" stroke="#555" stroke-width="1.15" stroke-linecap="butt"/>
<line x1="106.80" y1="794.60" x2="106.80" y2="796.20" stroke="#555" stroke-width="1.15" stroke-linecap="butt"/>
<line x1="151.00" y1="794.60" x2="151.00" y2="796.20" stroke="#555" stroke-width="1.15" stroke-linecap="butt"/>
<line x1="195.20" y1="794.60" x2="195.20" y2="796.20" stroke="#555" stroke-width="1.15" stroke-linecap="butt"/>
<line x1="239.40" y1="794.60" x2="239.40" y2="796.20" stroke="#555" stroke-width="1.15" stroke-linecap="butt"/>
<line x1="283.60" y1="794.60" x2="283.60" y2="796.20" stroke="#555" stroke-width="1.15" stroke-linecap="butt"/>
<line x1="28.50" y1="794.60" x2="31.50" y2="794.60" stroke="#555" stroke-width="1.15" stroke-linecap="butt"/>
<text x="25.70" y="798.40" font-size="10.7" text-anchor="end" fill="#111" >0,0</text>
<line x1="28.50" y1="759.06" x2="31.50" y2="759.06" stroke="#555" stroke-width="1.15" stroke-linecap="butt"/>
<text x="25.70" y="762.86" font-size="10.7" text-anchor="end" fill="#111" >0,2</text>
<line x1="28.50" y1="723.52" x2="31.50" y2="723.52" stroke="#555" stroke-width="1.15" stroke-linecap="butt"/>
<text x="25.70" y="727.32" font-size="10.7" text-anchor="end" fill="#111" >0,4</text>
<line x1="28.50" y1="687.98" x2="31.50" y2="687.98" stroke="#555" stroke-width="1.15" stroke-linecap="butt"/>
<text x="25.70" y="691.78" font-size="10.7" text-anchor="end" fill="#111" >0,6</text>
<line x1="28.50" y1="652.44" x2="31.50" y2="652.44" stroke="#555" stroke-width="1.15" stroke-linecap="butt"/>
<text x="25.70" y="656.24" font-size="10.7" text-anchor="end" fill="#111" >0,8</text>
<line x1="28.50" y1="616.90" x2="31.50" y2="616.90" stroke="#555" stroke-width="1.15" stroke-linecap="butt"/>
<text x="25.70" y="620.70" font-size="10.7" text-anchor="end" fill="#111" >1,0</text>
<line x1="29.90" y1="776.83" x2="31.50" y2="776.83" stroke="#555" stroke-width="1.15" stroke-linecap="butt"/>
<line x1="29.90" y1="741.29" x2="31.50" y2="741.29" stroke="#555" stroke-width="1.15" stroke-linecap="butt"/>
<line x1="29.90" y1="705.75" x2="31.50" y2="705.75" stroke="#555" stroke-width="1.15" stroke-linecap="butt"/>
<line x1="29.90" y1="670.21" x2="31.50" y2="670.21" stroke="#555" stroke-width="1.15" stroke-linecap="butt"/>
<line x1="29.90" y1="634.67" x2="31.50" y2="634.67" stroke="#555" stroke-width="1.15" stroke-linecap="butt"/>
<text x="121.40" y="818.20" font-size="10.7" text-anchor="start" fill="#111" textLength="86.00" lengthAdjust="spacingAndGlyphs" >Wavelength (nm)</text>
<text x="8.90" y="696.50" font-size="10.6" text-anchor="middle" fill="#111" transform="rotate(-90 8.90 696.50)" textLength="143.40" lengthAdjust="spacingAndGlyphs" >Normalized absorption (u.a.)</text>
<text x="6.10" y="605.90" font-size="15.5" text-anchor="start" fill="#111" textLength="19.30" lengthAdjust="spacingAndGlyphs" >(d)</text>
<line x1="140.70" y1="608.90" x2="163.30" y2="608.90" stroke="#111" stroke-width="1.5" stroke-linecap="butt"/>
<text x="168.10" y="612.60" font-size="10.7" text-anchor="start" fill="#111" textLength="127.20" lengthAdjust="spacingAndGlyphs" >AgNPs with 1ml of AgNO</text>
<text x="295.60" y="614.80" font-size="7" text-anchor="start" fill="#111" >3</text>
</g>
<g font-family="Liberation Sans, sans-serif" font-weight="bold">
<path d="M348.8,793.7 L350.6,793.2 L352.1,792.5 L353.7,791.7 L355.3,790.7 L356.6,789.6 L357.9,788.4 L359.3,786.9 L360.6,785.3 L361.9,783.4 L363.3,781.3 L364.6,779.0 L365.9,776.5 L368.6,771.0 L374.6,757.8 L376.1,754.7 L377.7,752.0 L378.6,750.6 L379.5,749.3 L380.4,748.3 L381.3,747.4 L382.1,746.7 L383.0,746.3 L383.9,746.0 L384.6,746.0 L385.3,746.1 L386.1,746.3 L386.8,746.7 L387.7,747.4 L388.4,748.0 L389.3,749.0 L390.1,750.2 L391.0,751.5 L392.6,754.2 L394.1,757.3 L395.9,761.1 L400.8,771.9 L402.4,775.1 L403.9,778.1 L405.7,781.2 L407.5,784.0 L409.0,786.1 L410.8,788.1 L412.8,789.9 L414.8,791.4 L415.9,792.0 L417.0,792.6 L419.3,793.5 L421.7,794.1 L424.6,794.6 L427.9,794.9 L432.4,795.0 L432.38,795.10 L348.81,795.10 Z" fill="rgba(128,128,128,0.5)" stroke="none"/>
<path d="M348.8,793.7 L350.6,793.2 L352.1,792.5 L353.7,791.7 L355.3,790.7 L356.6,789.6 L357.9,788.4 L359.3,786.9 L360.6,785.3 L361.9,783.4 L363.3,781.3 L364.6,779.0 L365.9,776.5 L368.6,771.0 L374.6,757.8 L376.1,754.7 L377.7,752.0 L378.6,750.6 L379.5,749.3 L380.4,748.3 L381.3,747.4 L382.1,746.7 L383.0,746.3 L383.9,746.0 L384.6,746.0 L385.3,746.1 L386.1,746.3 L386.8,746.7 L387.7,747.4 L388.4,748.0 L389.3,749.0 L390.1,750.2 L391.0,751.5 L392.6,754.2 L394.1,757.3 L395.9,761.1 L400.8,771.9 L402.4,775.1 L403.9,778.1 L405.7,781.2 L407.5,784.0 L409.0,786.1 L410.8,788.1 L412.8,789.9 L414.8,791.4 L415.9,792.0 L417.0,792.6 L419.3,793.5 L421.7,794.1 L424.6,794.6 L427.9,794.9 L432.4,795.0" fill="none" stroke="#e8b0e8" stroke-width="0.5"/>
<path d="M383.6,795.0 L388.9,794.8 L393.2,794.4 L394.9,794.1 L396.7,793.7 L398.3,793.3 L399.8,792.8 L401.4,792.2 L402.7,791.5 L404.1,790.8 L405.4,789.9 L406.7,788.8 L407.8,787.8 L409.2,786.5 L410.3,785.2 L411.4,783.8 L412.5,782.3 L414.5,779.2 L416.5,775.7 L418.7,771.2 L420.5,767.3 L422.5,762.5 L428.7,746.7 L430.7,741.8 L432.7,737.2 L434.7,733.2 L435.8,731.2 L437.0,729.5 L438.1,728.1 L439.0,727.1 L440.1,726.2 L441.0,725.7 L441.8,725.3 L442.7,725.2 L443.6,725.3 L444.5,725.6 L445.4,726.1 L446.5,726.9 L447.4,727.9 L448.5,729.3 L449.6,730.9 L450.7,732.8 L452.7,736.8 L454.7,741.3 L457.0,746.8 L463.2,762.6 L465.2,767.4 L467.0,771.3 L469.2,775.8 L471.2,779.3 L473.2,782.4 L474.3,783.9 L475.4,785.3 L476.5,786.5 L477.8,787.9 L479.0,788.8 L480.3,789.9 L481.6,790.8 L483.0,791.5 L484.3,792.2 L485.8,792.8 L487.4,793.3 L489.0,793.7 L490.7,794.1 L492.5,794.4 L496.5,794.8 L501.9,795.0 L501.85,795.10 L383.61,795.10 Z" fill="rgba(128,128,128,0.5)" stroke="none"/>
<path d="M426.4,795.0 L429.3,794.8 L431.7,794.4 L432.8,794.0 L433.7,793.7 L435.3,792.9 L436.2,792.2 L436.8,791.7 L437.7,790.7 L438.4,789.9 L439.7,788.0 L441.0,785.5 L442.2,782.9 L443.3,779.9 L444.4,776.4 L445.7,771.7 L446.8,767.2 L447.9,762.5 L452.6,741.2 L453.7,736.7 L454.8,732.8 L455.9,729.5 L456.6,727.9 L457.0,727.1 L457.7,726.1 L458.2,725.6 L458.8,725.3 L459.3,725.2 L459.7,725.3 L460.4,725.8 L460.8,726.3 L461.5,727.4 L461.9,728.3 L462.6,730.0 L463.7,733.3 L464.8,737.4 L465.9,742.0 L470.4,762.3 L471.5,767.0 L472.6,771.5 L473.9,776.3 L475.0,779.8 L476.2,782.8 L477.3,785.4 L478.6,787.9 L479.9,789.9 L480.6,790.7 L481.5,791.6 L482.2,792.2 L483.0,792.8 L484.6,793.7 L485.5,794.0 L486.6,794.3 L489.0,794.8 L491.9,795.0 L491.94,795.10 L426.38,795.10 Z" fill="rgba(255,110,185,0.55)" stroke="none"/>
<path d="M442.2,795.1 L449.4,795.0 L454.5,794.8 L458.7,794.4 L462.2,793.7 L465.4,792.9 L468.7,791.8 L471.6,790.5 L478.0,787.5 L480.9,786.3 L482.5,785.8 L484.0,785.5 L485.6,785.2 L487.1,785.2 L488.5,785.2 L490.0,785.4 L491.6,785.8 L493.1,786.3 L496.0,787.4 L502.5,790.5 L505.4,791.7 L508.7,792.9 L511.8,793.7 L515.4,794.4 L519.6,794.8 L524.7,795.0 L531.8,795.1 L531.81,795.10 L442.24,795.10 Z" fill="rgba(110,110,110,0.45)" stroke="none"/>
<path d="M395.0,795.1 L432.4,795.0 L445.0,794.8 L456.2,794.5 L465.9,794.2 L475.7,793.7 L503.5,792.1 L512.6,791.6 L521.9,791.2 L530.8,791.1 L540.2,791.2 L550.2,791.6 L559.3,792.1 L582.8,793.5 L596.6,794.2 L609.7,794.6 L624.4,794.9 L624.40,795.10 L395.04,795.10 Z" fill="rgba(128,128,128,0.4)" stroke="none"/>
<path d="M348.8,765.9 L349.7,747.0 L351.3,706.8 L351.9,691.8 L352.4,684.4 L352.8,679.7 L353.0,678.5 L353.3,678.1 L353.5,678.5 L353.7,679.7 L353.9,681.7 L354.1,684.4 L354.6,691.8 L355.3,706.8 L356.6,741.5 L357.3,757.1 L357.9,769.8 L358.6,779.3 L359.3,785.8 L359.7,788.8 L360.1,790.9 L360.6,792.4 L360.8,793.0 L361.3,793.8 L361.9,794.5 L362.4,794.8 L362.8,794.9" fill="none" stroke="#f09090" stroke-width="0.8"/>
<path d="M349.0,794.9 L349.8,794.6 L350.5,794.0 L351.2,792.9 L351.6,791.7 L352.1,790.0 L352.5,787.6 L353.0,784.4 L353.4,780.1 L354.1,771.6 L355.0,755.9 L357.0,709.0 L357.6,695.2 L358.3,685.6 L358.5,683.7 L358.7,682.3 L359.0,681.7 L359.2,681.8 L359.4,682.6 L359.6,684.1 L359.8,686.3 L360.3,692.5 L361.0,705.4 L362.5,742.6 L363.2,757.1 L363.8,769.1 L364.5,778.3 L365.0,783.0 L365.4,786.5 L365.8,789.2 L366.3,791.1 L366.7,792.5 L367.0,793.0 L367.4,793.8 L368.1,794.5 L368.5,794.7 L369.0,794.9" fill="none" stroke="#c08c8c" stroke-width="0.8"/>
<path d="M349.4,794.9 L350.7,794.6 L351.4,794.3 L351.9,794.1 L352.3,793.7 L352.7,793.2 L353.2,792.6 L353.6,791.8 L354.1,790.8 L354.5,789.6 L355.2,787.3 L355.9,784.1 L356.5,780.1 L357.2,775.1 L357.6,771.2 L358.7,759.2 L359.9,744.6 L362.1,712.5 L363.2,699.1 L363.9,693.3 L364.3,690.5 L364.7,688.7 L365.0,688.2 L365.2,688.0 L365.4,688.1 L365.6,688.4 L365.9,689.0 L366.3,691.0 L366.8,694.0 L367.4,700.2 L368.5,713.9 L370.5,742.8 L371.6,757.7 L372.3,765.4 L373.0,772.1 L373.4,775.9 L374.1,780.8 L374.8,784.7 L375.4,787.7 L376.1,789.9 L376.8,791.6 L377.2,792.4 L377.6,793.1 L378.1,793.6 L378.5,794.0 L379.0,794.3 L379.6,794.6 L381.0,794.9" fill="none" stroke="#8c8cff" stroke-width="0.8"/>
<path d="M353.7,795.1 L355.5,795.0 L357.0,794.8 L358.4,794.6 L359.5,794.2 L360.4,793.7 L361.3,793.1 L362.1,792.3 L363.0,791.3 L363.7,790.4 L364.4,789.3 L365.0,788.0 L365.9,786.1 L367.3,782.8 L370.4,774.1 L371.7,771.0 L372.6,769.5 L373.3,768.6 L373.9,768.1 L374.6,768.0 L375.3,768.2 L375.9,768.8 L376.6,769.7 L377.3,770.9 L378.6,774.0 L381.7,782.6 L383.0,786.0 L383.9,787.9 L384.6,789.2 L385.3,790.3 L385.9,791.3 L386.8,792.3 L387.7,793.1 L388.6,793.7 L389.5,794.2 L390.6,794.5 L391.9,794.8 L393.5,795.0 L395.3,795.1" fill="none" stroke="#50c8c8" stroke-width="0.8"/>
<path d="M350.1,766.7 L350.6,727.9 L351.0,703.2 L351.5,685.2 L352.1,662.5 L352.4,656.3 L352.8,647.2 L353.3,642.4 L353.7,639.5 L354.1,637.9 L354.6,637.0 L355.7,633.6 L356.6,630.5 L357.3,627.7 L358.6,621.5 L359.3,617.3 L359.5,616.3 L359.7,615.6 L359.9,615.1 L360.6,618.5 L361.3,622.9 L362.4,628.3 L363.9,636.7 L365.0,643.1 L365.7,647.4 L366.4,652.3 L367.3,659.7 L369.3,678.7 L370.6,690.6 L372.8,708.5 L373.7,714.7 L374.6,719.8 L375.5,724.0 L376.6,728.2 L377.7,731.6 L379.0,735.0 L380.1,737.2 L381.5,739.4 L382.6,740.8 L383.7,742.0 L384.8,743.0 L386.8,744.6 L387.9,745.6 L389.0,746.7 L390.1,748.0 L391.5,749.7 L393.0,751.9 L399.3,761.7 L401.5,765.0 L402.6,766.4 L403.7,767.6 L405.0,768.9 L406.2,769.7 L407.3,770.4 L408.4,770.8 L409.5,771.2 L410.6,771.4 L411.5,771.4 L412.2,771.2 L412.8,770.9 L413.7,770.4 L414.8,769.5 L415.9,768.4 L417.0,767.1 L418.2,765.7 L419.3,764.1 L420.6,762.1 L421.9,759.8 L423.0,757.7 L424.6,754.4 L426.2,750.9 L427.5,747.4 L428.8,743.6 L430.8,737.3 L434.8,723.4 L437.7,714.0 L439.7,707.8 L444.4,694.0 L446.6,687.8 L448.4,683.6 L449.3,681.7 L450.2,680.2 L451.3,678.5 L452.4,677.3 L453.3,675.7 L454.2,674.4 L455.0,673.4 L455.9,672.6 L456.8,673.6 L457.5,674.7 L458.2,675.9 L459.0,677.9 L460.2,679.7 L461.3,681.9 L461.9,683.4 L462.6,685.1 L463.3,687.2 L463.9,689.5 L464.8,693.2 L466.2,699.8 L470.6,724.5 L471.9,731.4 L473.3,737.8 L474.8,744.7 L476.6,751.8 L478.2,757.5 L479.5,761.6 L480.6,764.5 L481.9,767.4 L483.5,770.2 L485.3,772.8 L487.0,774.9 L489.0,777.0 L491.3,778.9 L494.2,781.0 L497.5,783.3 L500.2,784.8 L501.9,785.6 L503.9,786.4 L505.9,787.1 L507.9,787.7 L508.8,788.0 L511.1,788.4 L515.7,789.2 L521.9,790.0 L528.6,790.8 L534.6,791.3 L543.3,791.9 L553.1,792.4 L565.1,792.9 L578.4,793.3 L595.1,793.8 L611.3,794.1 L624.4,794.4" fill="none" stroke="#111" stroke-width="1.7" stroke-linejoin="round" stroke-linecap="butt"/>
<path d="M350.1,766.7 L350.6,727.9 L351.0,703.2 L351.5,685.2 L351.9,670.7 L352.4,658.7 L352.8,650.8 L353.3,645.1 L353.5,643.0 L353.7,641.3 L354.1,638.8 L354.6,637.0 L355.9,632.9 L356.6,630.5 L357.3,627.7 L358.8,620.5 L359.3,619.1 L359.5,618.8 L359.7,618.6 L359.9,618.7 L360.1,619.1 L360.4,619.6 L360.8,621.0 L361.5,623.9 L363.7,635.4 L365.5,645.9 L366.1,650.6 L367.0,657.7 L370.1,686.8 L371.5,698.1 L372.8,708.5 L373.7,714.7 L374.6,719.8 L375.7,724.9 L376.8,728.9 L377.9,732.2 L379.0,735.0 L380.1,737.2 L381.5,739.4 L382.6,740.8 L383.7,742.0 L384.8,743.0 L386.8,744.6 L387.9,745.6 L389.0,746.7 L390.1,748.0 L391.5,749.7 L393.0,751.9 L399.3,761.7 L401.5,765.0 L402.6,766.4 L403.7,767.6 L405.0,768.9 L406.2,769.7 L407.0,770.2 L408.2,770.8 L409.3,771.1 L410.4,771.4 L411.3,771.4 L411.9,771.3 L412.6,771.0 L413.5,770.5 L414.6,769.6 L415.7,768.6 L416.8,767.4 L417.9,766.0 L419.0,764.5 L420.4,762.4 L421.5,760.6 L422.6,758.5 L424.2,755.4 L425.7,751.9 L427.3,748.0 L428.6,744.3 L430.6,738.0 L435.0,722.6 L437.9,713.3 L439.7,707.8 L444.6,693.4 L445.9,689.6 L447.0,686.7 L448.2,684.1 L449.3,681.7 L450.4,679.8 L451.5,678.2 L452.6,677.1 L453.7,676.3 L454.4,676.0 L454.8,675.8 L455.3,675.8 L455.7,675.8 L456.2,675.9 L456.6,676.1 L457.5,676.8 L458.4,677.9 L459.5,679.7 L460.6,681.9 L461.7,684.5 L462.6,687.0 L463.5,689.9 L464.6,694.4 L465.9,700.7 L467.3,707.8 L470.6,726.4 L471.9,733.3 L473.3,739.6 L474.8,746.4 L476.4,752.6 L477.9,758.3 L479.3,762.5 L480.4,765.4 L481.7,768.4 L483.0,770.8 L484.6,773.1 L486.4,775.3 L488.2,777.2 L490.2,778.9 L492.4,780.6 L496.2,783.1 L498.8,784.6 L500.4,785.3 L501.9,785.9 L503.7,786.6 L505.7,787.2 L509.5,788.1 L514.4,789.0 L520.4,789.8 L527.9,790.7 L534.2,791.3 L542.4,791.8 L552.2,792.3 L564.4,792.8 L577.7,793.3 L594.4,793.8 L610.8,794.1 L624.4,794.4" fill="none" stroke="#fa0404" stroke-width="2.05" stroke-linejoin="round" stroke-linecap="butt"/>
<rect x="348.00" y="596.20" width="276.40" height="198.90" fill="none" stroke="#555" stroke-width="1.15"/>
<line x1="357.70" y1="795.10" x2="357.70" y2="798.10" stroke="#555" stroke-width="1.15" stroke-linecap="butt"/>
<text x="357.70" y="808.50" font-size="10.2" text-anchor="middle" fill="#111" >200</text>
<line x1="402.15" y1="795.10" x2="402.15" y2="798.10" stroke="#555" stroke-width="1.15" stroke-linecap="butt"/>
<text x="402.15" y="808.50" font-size="10.2" text-anchor="middle" fill="#111" >300</text>
<line x1="446.60" y1="795.10" x2="446.60" y2="798.10" stroke="#555" stroke-width="1.15" stroke-linecap="butt"/>
<text x="446.60" y="808.50" font-size="10.2" text-anchor="middle" fill="#111" >400</text>
<line x1="491.05" y1="795.10" x2="491.05" y2="798.10" stroke="#555" stroke-width="1.15" stroke-linecap="butt"/>
<text x="491.05" y="808.50" font-size="10.2" text-anchor="middle" fill="#111" >500</text>
<line x1="535.50" y1="795.10" x2="535.50" y2="798.10" stroke="#555" stroke-width="1.15" stroke-linecap="butt"/>
<text x="535.50" y="808.50" font-size="10.2" text-anchor="middle" fill="#111" >600</text>
<line x1="579.95" y1="795.10" x2="579.95" y2="798.10" stroke="#555" stroke-width="1.15" stroke-linecap="butt"/>
<text x="579.95" y="808.50" font-size="10.2" text-anchor="middle" fill="#111" >700</text>
<line x1="624.40" y1="795.10" x2="624.40" y2="798.10" stroke="#555" stroke-width="1.15" stroke-linecap="butt"/>
<text x="624.40" y="808.50" font-size="10.2" text-anchor="middle" fill="#111" >800</text>
<line x1="379.93" y1="795.10" x2="379.93" y2="796.70" stroke="#555" stroke-width="1.15" stroke-linecap="butt"/>
<line x1="424.38" y1="795.10" x2="424.38" y2="796.70" stroke="#555" stroke-width="1.15" stroke-linecap="butt"/>
<line x1="468.82" y1="795.10" x2="468.82" y2="796.70" stroke="#555" stroke-width="1.15" stroke-linecap="butt"/>
<line x1="513.27" y1="795.10" x2="513.27" y2="796.70" stroke="#555" stroke-width="1.15" stroke-linecap="butt"/>
<line x1="557.73" y1="795.10" x2="557.73" y2="796.70" stroke="#555" stroke-width="1.15" stroke-linecap="butt"/>
<line x1="602.17" y1="795.10" x2="602.17" y2="796.70" stroke="#555" stroke-width="1.15" stroke-linecap="butt"/>
<line x1="345.00" y1="795.10" x2="348.00" y2="795.10" stroke="#555" stroke-width="1.15" stroke-linecap="butt"/>
<text x="343.00" y="798.90" font-size="10.7" text-anchor="end" fill="#111" >0,0</text>
<line x1="345.00" y1="758.98" x2="348.00" y2="758.98" stroke="#555" stroke-width="1.15" stroke-linecap="butt"/>
<text x="343.00" y="762.78" font-size="10.7" text-anchor="end" fill="#111" >0,2</text>
<line x1="345.00" y1="722.86" x2="348.00" y2="722.86" stroke="#555" stroke-width="1.15" stroke-linecap="butt"/>
<text x="343.00" y="726.66" font-size="10.7" text-anchor="end" fill="#111" >0,4</text>
<line x1="345.00" y1="686.74" x2="348.00" y2="686.74" stroke="#555" stroke-width="1.15" stroke-linecap="butt"/>
<text x="343.00" y="690.54" font-size="10.7" text-anchor="end" fill="#111" >0,6</text>
<line x1="345.00" y1="650.62" x2="348.00" y2="650.62" stroke="#555" stroke-width="1.15" stroke-linecap="butt"/>
<text x="343.00" y="654.42" font-size="10.7" text-anchor="end" fill="#111" >0,8</text>
<line x1="345.00" y1="614.50" x2="348.00" y2="614.50" stroke="#555" stroke-width="1.15" stroke-linecap="butt"/>
<text x="343.00" y="618.30" font-size="10.7" text-anchor="end" fill="#111" >1,0</text>
<line x1="346.40" y1="777.04" x2="348.00" y2="777.04" stroke="#555" stroke-width="1.15" stroke-linecap="butt"/>
<line x1="346.40" y1="740.92" x2="348.00" y2="740.92" stroke="#555" stroke-width="1.15" stroke-linecap="butt"/>
<line x1="346.40" y1="704.80" x2="348.00" y2="704.80" stroke="#555" stroke-width="1.15" stroke-linecap="butt"/>
<line x1="346.40" y1="668.68" x2="348.00" y2="668.68" stroke="#555" stroke-width="1.15" stroke-linecap="butt"/>
<line x1="346.40" y1="632.56" x2="348.00" y2="632.56" stroke="#555" stroke-width="1.15" stroke-linecap="butt"/>
<text x="435.60" y="818.60" font-size="10.7" text-anchor="start" fill="#111" textLength="86.00" lengthAdjust="spacingAndGlyphs" >Wavelength (nm)</text>
<text x="325.80" y="695.00" font-size="10.6" text-anchor="middle" fill="#111" transform="rotate(-90 325.80 695.00)" textLength="143.40" lengthAdjust="spacingAndGlyphs" >Normalized absorption (u.a.)</text>
<text x="324.80" y="603.30" font-size="15.5" text-anchor="start" fill="#111" textLength="19.30" lengthAdjust="spacingAndGlyphs" >(e)</text>
<line x1="450.40" y1="606.40" x2="473.40" y2="606.40" stroke="#111" stroke-width="1.5" stroke-linecap="butt"/>
<text x="477.90" y="610.90" font-size="10.7" text-anchor="start" fill="#111" textLength="133.60" lengthAdjust="spacingAndGlyphs" >AgNPs with 10ml of AgNO</text>
<text x="611.80" y="613.10" font-size="7" text-anchor="start" fill="#111" >3</text>
</g>
</svg>
</body></html>
